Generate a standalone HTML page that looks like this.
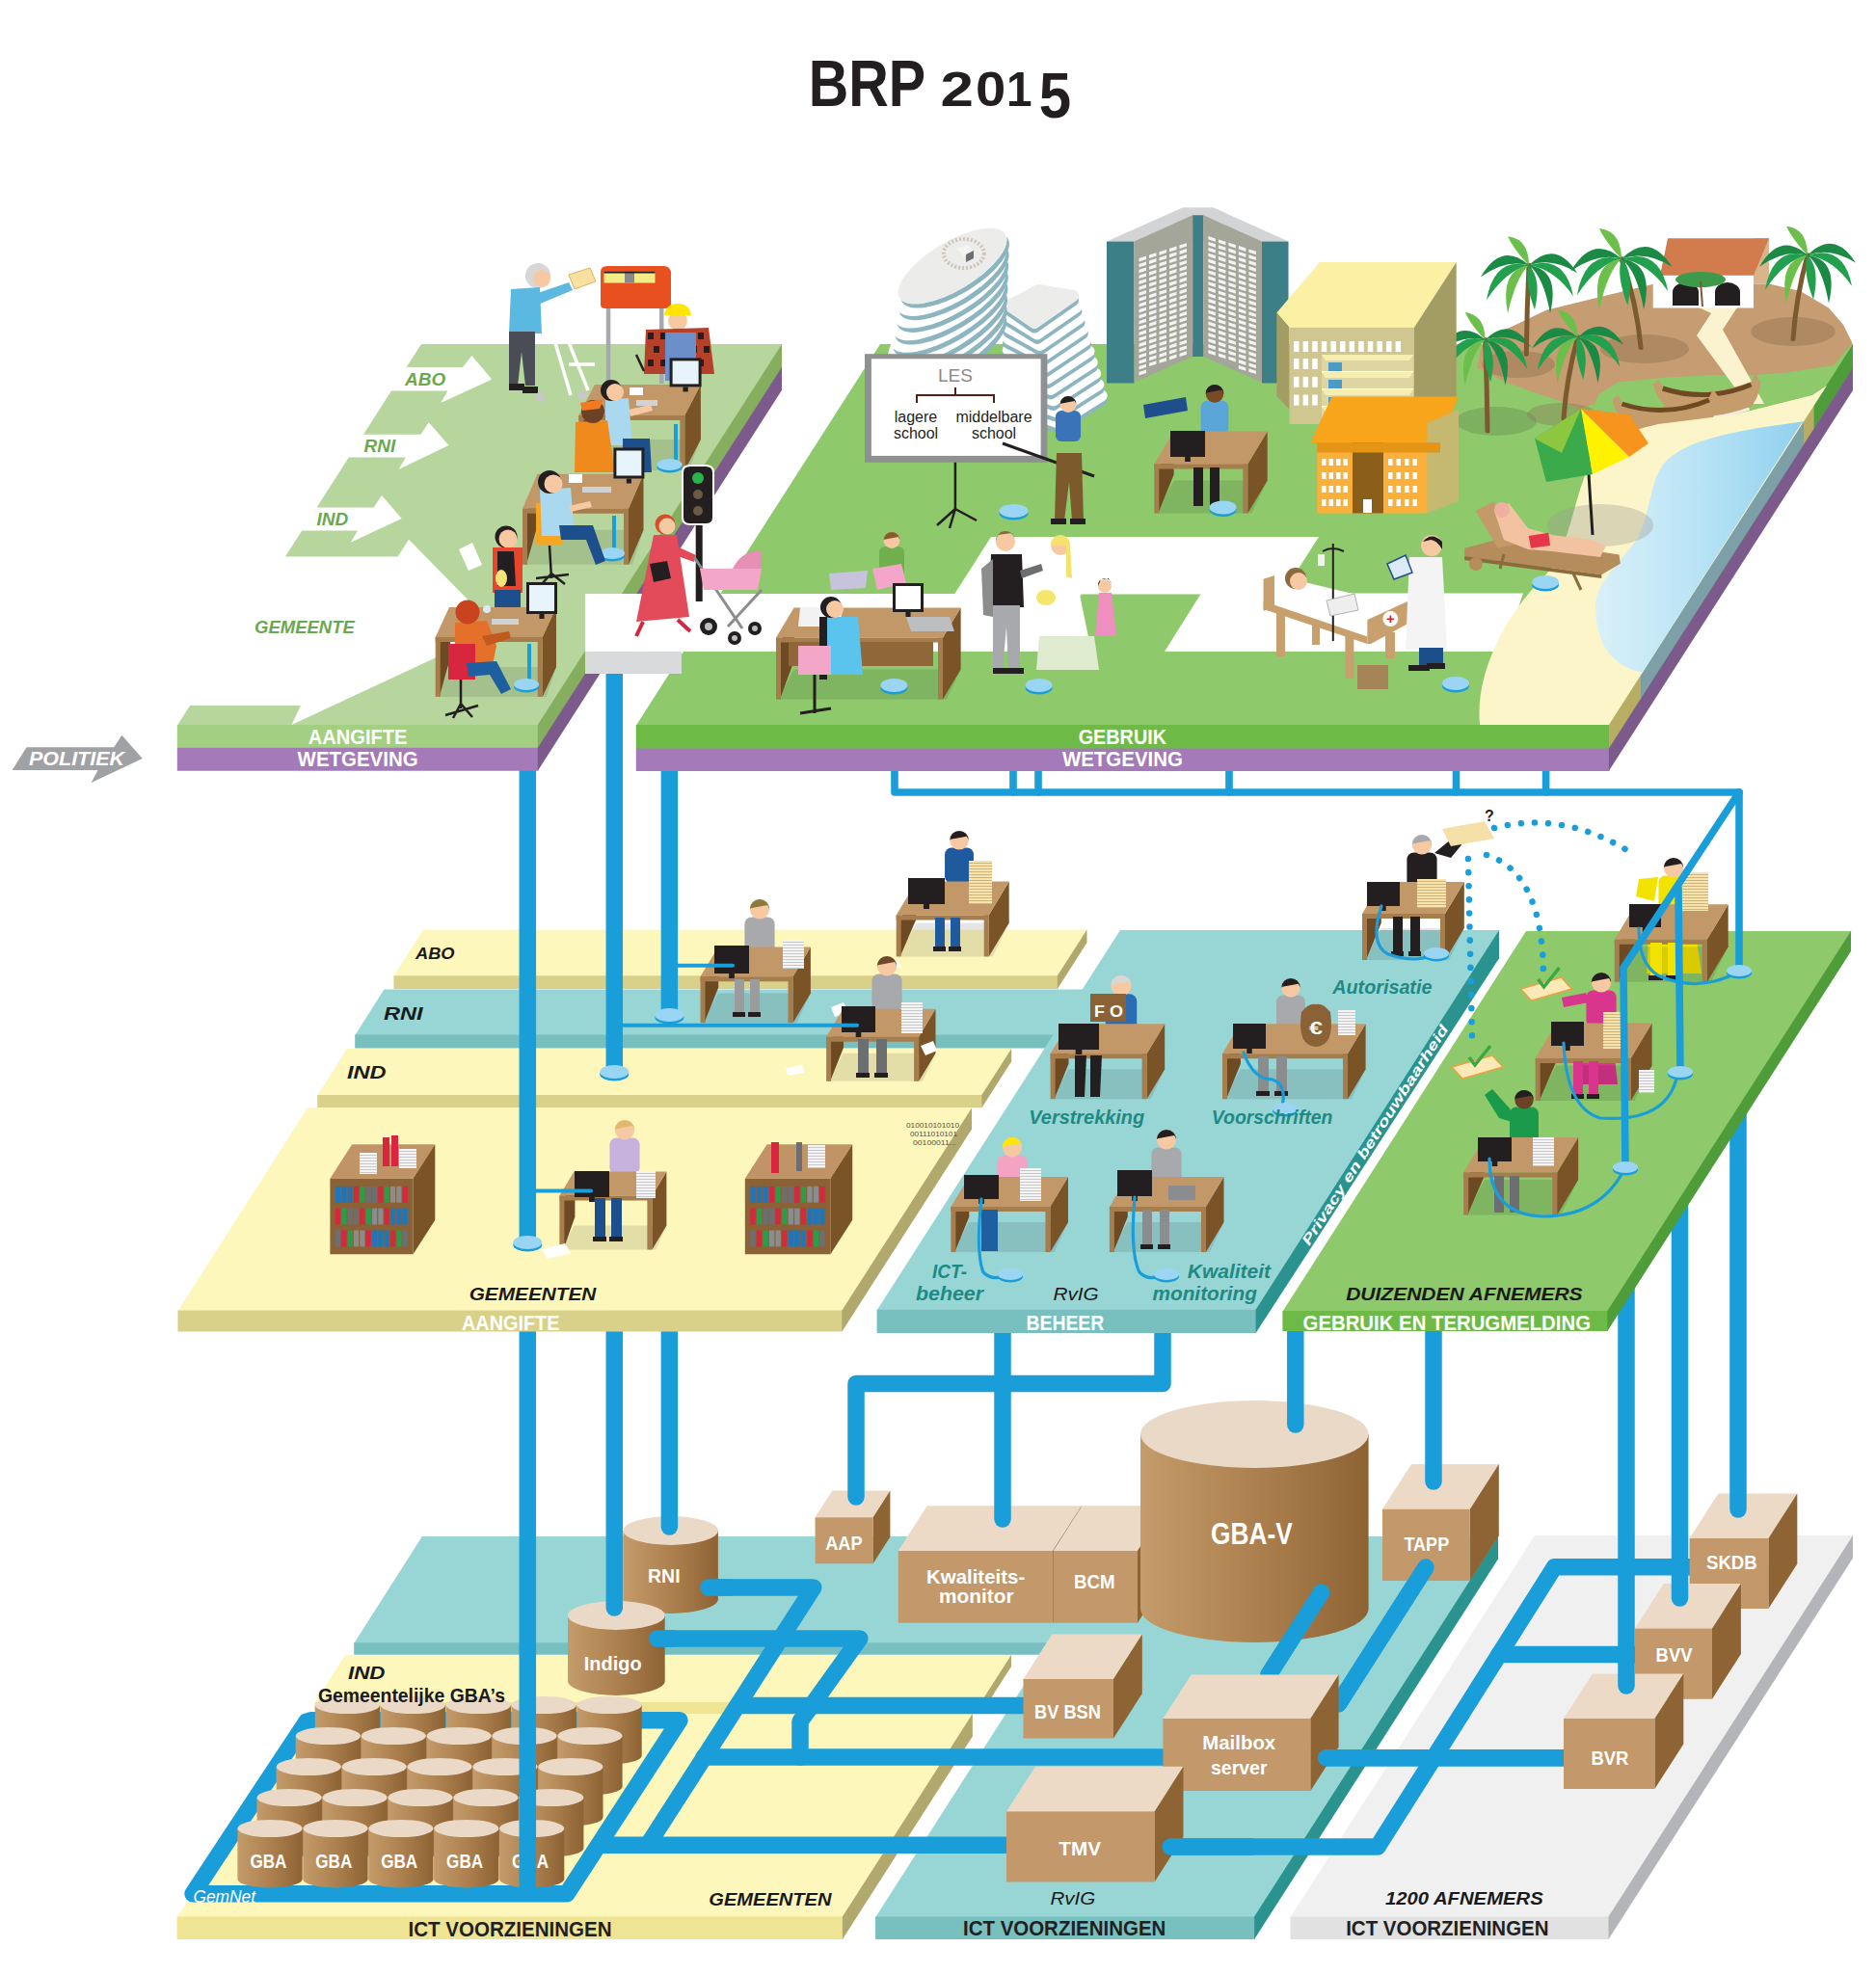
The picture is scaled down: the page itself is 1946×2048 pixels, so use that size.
<!DOCTYPE html>
<html><head><meta charset="utf-8"><style>
html,body{margin:0;padding:0;background:#fff;}
svg{display:block;}
</style></head><body>
<svg width="1946" height="2048" viewBox="0 0 1946 2048">
<defs>
<linearGradient id="gwater" x1="0" x2="1" y1="0" y2="0"><stop offset="0" stop-color="#d9f0f8"/><stop offset="0.5" stop-color="#b8e3f5"/><stop offset="1" stop-color="#8fd0ee"/></linearGradient>
<linearGradient id="gcyl" x1="0" x2="1" y1="0" y2="0"><stop offset="0" stop-color="#c49b6a"/><stop offset="0.5" stop-color="#ad814f"/><stop offset="1" stop-color="#8e6334"/></linearGradient>
</defs>
<rect width="1946" height="2048" fill="#fff"/>
<polygon points="437.9,1594.0 1200.6,1594.0 1129.9,1705.1 367.2,1705.1" fill="#98d6d6" />
<polygon points="367.2,1704.3 1129.9,1704.3 1129.9,1716.8 367.2,1716.8" fill="#78bfc0" />
<polygon points="1129.3,1704.3 1200.0,1594.0 1200.0,1606.5 1129.3,1716.8" fill="#2a938f" />
<polygon points="1161.0,1594.0 1554.6,1594.0 1301.7,1989.3 908.1,1989.3" fill="#98d6d6" />
<polygon points="908.1,1988.5 1301.7,1988.5 1301.7,2012.0 908.1,2012.0" fill="#78bfc0" />
<polygon points="1301.1,1988.5 1554.0,1594.0 1554.0,1617.5 1301.1,2012.0" fill="#2a938f" />
<polygon points="358.0,1717.0 1049.6,1717.0 1018.2,1766.8 326.6,1766.8" fill="#fdf7bb" />
<polygon points="326.6,1766.0 1018.2,1766.0 1018.2,1778.0 326.6,1778.0" fill="#efe494" />
<polygon points="1017.6,1766.0 1049.0,1717.0 1049.0,1729.0 1017.6,1778.0" fill="#b0a86c" />
<polygon points="318.5,1778.0 1009.4,1778.0 874.5,1989.3 183.6,1989.3" fill="#fdf7bb" />
<polygon points="183.6,1988.5 874.5,1988.5 874.5,2012.0 183.6,2012.0" fill="#efe494" />
<polygon points="873.9,1988.5 1008.8,1778.0 1008.8,1801.5 873.9,2012.0" fill="#b0a86c" />
<polygon points="1592.0,1593.0 1922.6,1593.0 1669.1,1989.3 1338.5,1989.3" fill="#f0f0f0" />
<polygon points="1338.5,1988.5 1669.1,1988.5 1669.1,2012.0 1338.5,2012.0" fill="#e1e1e1" />
<polygon points="1668.5,1988.5 1922.0,1593.0 1922.0,1616.5 1668.5,2012.0" fill="#b4b5b8" />
<path d="M322.0,1784.7 L705.0,1784.7 L588.0,1964.7 L200.0,1964.7 L318.0,1786.0" fill="none" stroke="#1a9ed9" stroke-width="17.5" stroke-linejoin="round" stroke-linecap="round"/>
<path d="M735.0,1647.0 L843.8,1647.0 L672.0,1914.0" fill="none" stroke="#1a9ed9" stroke-width="17.5" stroke-linejoin="round" stroke-linecap="round"/>
<path d="M682.0,1700.0 L891.8,1700.0 L830.0,1786.0 L830.0,1823.0" fill="none" stroke="#1a9ed9" stroke-width="17.5" stroke-linejoin="round" stroke-linecap="round"/>
<path d="M765.5,1769.6 L1070.0,1769.6" fill="none" stroke="#1a9ed9" stroke-width="17.5" stroke-linejoin="round" stroke-linecap="round"/>
<path d="M730.0,1823.0 L1215.0,1823.0" fill="none" stroke="#1a9ed9" stroke-width="17.5" stroke-linejoin="round" stroke-linecap="round"/>
<path d="M622.0,1914.2 L1050.0,1914.2" fill="none" stroke="#1a9ed9" stroke-width="17.5" stroke-linejoin="round" stroke-linecap="round"/>
<path d="M1370.6,1652.3 L1316.0,1737.5" fill="none" stroke="#1a9ed9" stroke-width="17.5" stroke-linejoin="round" stroke-linecap="round"/>
<path d="M1479.0,1626.0 L1388.5,1767.6" fill="none" stroke="#1a9ed9" stroke-width="17.5" stroke-linejoin="round" stroke-linecap="round"/>
<path d="M1375.7,1823.8 L1630.0,1823.8" fill="none" stroke="#1a9ed9" stroke-width="17.5" stroke-linejoin="round" stroke-linecap="round"/>
<path d="M1214.3,1916.0 L1429.0,1916.0 L1612.4,1625.8 L1760.0,1625.8" fill="none" stroke="#1a9ed9" stroke-width="17.5" stroke-linejoin="round" stroke-linecap="round"/>
<path d="M1555.0,1716.5 L1700.0,1716.5" fill="none" stroke="#1a9ed9" stroke-width="17.5" stroke-linejoin="round" stroke-linecap="round"/>
<polygon points="845.6,1574.3 905.6,1574.3 923.4,1546.5 863.4,1546.5" fill="#ecdac7" />
<polygon points="905.6,1574.3 923.4,1546.5 923.4,1594.5 905.6,1622.3" fill="#8f6434" />
<polygon points="845.6,1574.3 905.6,1574.3 905.6,1622.3 845.6,1622.3" fill="#c3986a" />
<path d="M646.5,1588 L646.5,1659 A49.19999999999999,15 0 0 0 744.9,1659 L744.9,1588 Z" fill="url(#gcyl)"/>
<ellipse cx="695.7" cy="1588" rx="49.19999999999999" ry="15" fill="#ead9c6"/>
<polygon points="1434.0,1565.8 1524.8,1565.8 1554.8,1519.0 1464.0,1519.0" fill="#ecdac7" />
<polygon points="1524.8,1565.8 1554.8,1519.0 1554.8,1593.2 1524.8,1640.0" fill="#8f6434" />
<polygon points="1434.0,1565.8 1524.8,1565.8 1524.8,1640.0 1434.0,1640.0" fill="#c3986a" />
<polygon points="1752.6,1596.0 1834.4,1596.0 1864.3,1549.4 1782.5,1549.4" fill="#ecdac7" />
<polygon points="1834.4,1596.0 1864.3,1549.4 1864.3,1622.4 1834.4,1669.0" fill="#8f6434" />
<polygon points="1752.6,1596.0 1834.4,1596.0 1834.4,1669.0 1752.6,1669.0" fill="#c3986a" />
<polygon points="931.8,1609.0 1092.0,1609.0 1121.9,1562.3 961.7,1562.3" fill="#ecdac7" />
<polygon points="1092.0,1609.0 1121.9,1562.3 1121.9,1637.1 1092.0,1683.8" fill="#8f6434" />
<polygon points="931.8,1609.0 1092.0,1609.0 1092.0,1683.8 931.8,1683.8" fill="#c3986a" />
<polygon points="1092.5,1609.0 1180.0,1609.0 1209.9,1562.3 1122.4,1562.3" fill="#ecdac7" />
<polygon points="1180.0,1609.0 1209.9,1562.3 1209.9,1637.1 1180.0,1683.8" fill="#8f6434" />
<polygon points="1092.5,1609.0 1180.0,1609.0 1180.0,1683.8 1092.5,1683.8" fill="#c3986a" />
<path d="M1183,1488 L1183,1669 A118.29999999999995,35 0 0 0 1419.6,1669 L1419.6,1488 Z" fill="url(#gcyl)"/>
<ellipse cx="1301.3" cy="1488" rx="118.29999999999995" ry="35" fill="#ead9c6"/>
<path d="M589,1676 L589,1744 A50.35000000000002,15 0 0 0 689.7,1744 L689.7,1676 Z" fill="url(#gcyl)"/>
<ellipse cx="639.35" cy="1676" rx="50.35000000000002" ry="15" fill="#ead9c6"/>
<polygon points="1696.0,1689.6 1776.0,1689.6 1805.9,1643.0 1725.9,1643.0" fill="#ecdac7" />
<polygon points="1776.0,1689.6 1805.9,1643.0 1805.9,1716.1 1776.0,1762.7" fill="#8f6434" />
<polygon points="1696.0,1689.6 1776.0,1689.6 1776.0,1762.7 1696.0,1762.7" fill="#c3986a" />
<polygon points="1061.5,1742.0 1155.0,1742.0 1184.8,1695.5 1091.3,1695.5" fill="#ecdac7" />
<polygon points="1155.0,1742.0 1184.8,1695.5 1184.8,1757.1 1155.0,1803.6" fill="#8f6434" />
<polygon points="1061.5,1742.0 1155.0,1742.0 1155.0,1803.6 1061.5,1803.6" fill="#c3986a" />
<polygon points="1622.0,1783.0 1716.4,1783.0 1746.3,1736.4 1651.9,1736.4" fill="#ecdac7" />
<polygon points="1716.4,1783.0 1746.3,1736.4 1746.3,1809.4 1716.4,1856.0" fill="#8f6434" />
<polygon points="1622.0,1783.0 1716.4,1783.0 1716.4,1856.0 1622.0,1856.0" fill="#c3986a" />
<path d="M1370.6,1652.3 L1316.0,1737.5" fill="none" stroke="#1a9ed9" stroke-width="17.5" stroke-linejoin="round" stroke-linecap="round"/>
<path d="M1479.0,1626.0 L1388.5,1767.6" fill="none" stroke="#1a9ed9" stroke-width="17.5" stroke-linejoin="round" stroke-linecap="round"/>
<polygon points="1206.4,1783.0 1359.4,1783.0 1388.6,1737.5 1235.6,1737.5" fill="#ecdac7" />
<polygon points="1359.4,1783.0 1388.6,1737.5 1388.6,1812.5 1359.4,1858.0" fill="#8f6434" />
<polygon points="1206.4,1783.0 1359.4,1783.0 1359.4,1858.0 1206.4,1858.0" fill="#c3986a" />
<path d="M1375.7,1823.8 L1622.0,1823.8" fill="none" stroke="#1a9ed9" stroke-width="17.5" stroke-linejoin="round" stroke-linecap="butt"/>
<circle cx="1375.7" cy="1823.8" r="8.75" fill="#1a9ed9"/>
<polygon points="1044.0,1879.5 1197.6,1879.5 1227.5,1832.8 1073.9,1832.8" fill="#ecdac7" />
<polygon points="1197.6,1879.5 1227.5,1832.8 1227.5,1905.8 1197.6,1952.5" fill="#8f6434" />
<polygon points="1044.0,1879.5 1197.6,1879.5 1197.6,1952.5 1044.0,1952.5" fill="#c3986a" />
<path d="M1214.3,1916.0 L1300.0,1916.0" fill="none" stroke="#1a9ed9" stroke-width="17.5" stroke-linejoin="round" stroke-linecap="butt"/>
<circle cx="1214.3" cy="1916" r="8.75" fill="#1a9ed9"/>
<path d="M735.0,1647.0 L760.0,1647.0" fill="none" stroke="#1a9ed9" stroke-width="17.5" stroke-linejoin="round" stroke-linecap="butt"/>
<circle cx="735" cy="1647" r="8.75" fill="#1a9ed9"/>
<path d="M682.0,1700.0 L700.0,1700.0" fill="none" stroke="#1a9ed9" stroke-width="17.5" stroke-linejoin="round" stroke-linecap="butt"/>
<circle cx="682" cy="1700" r="8.75" fill="#1a9ed9"/>
<path d="M326.8,1769 L326.8,1821.4 A33.650000000000006,9.1 0 0 0 394.1,1821.4 L394.1,1769 Z" fill="url(#gcyl)"/>
<ellipse cx="360.45000000000005" cy="1769" rx="33.650000000000006" ry="9.1" fill="#ead9c6"/>
<path d="M394.70000000000005,1769 L394.70000000000005,1821.4 A33.650000000000006,9.1 0 0 0 462.00000000000006,1821.4 L462.00000000000006,1769 Z" fill="url(#gcyl)"/>
<ellipse cx="428.35" cy="1769" rx="33.650000000000006" ry="9.1" fill="#ead9c6"/>
<path d="M462.6,1769 L462.6,1821.4 A33.64999999999998,9.1 0 0 0 529.9,1821.4 L529.9,1769 Z" fill="url(#gcyl)"/>
<ellipse cx="496.25" cy="1769" rx="33.64999999999998" ry="9.1" fill="#ead9c6"/>
<path d="M530.5,1769 L530.5,1821.4 A33.64999999999998,9.1 0 0 0 597.8,1821.4 L597.8,1769 Z" fill="url(#gcyl)"/>
<ellipse cx="564.15" cy="1769" rx="33.64999999999998" ry="9.1" fill="#ead9c6"/>
<path d="M598.4000000000001,1769 L598.4000000000001,1821.4 A33.64999999999998,9.1 0 0 0 665.7,1821.4 L665.7,1769 Z" fill="url(#gcyl)"/>
<ellipse cx="632.0500000000001" cy="1769" rx="33.64999999999998" ry="9.1" fill="#ead9c6"/>
<path d="M306.7,1801 L306.7,1853.4 A33.650000000000006,9.1 0 0 0 374.0,1853.4 L374.0,1801 Z" fill="url(#gcyl)"/>
<ellipse cx="340.35" cy="1801" rx="33.650000000000006" ry="9.1" fill="#ead9c6"/>
<path d="M374.6,1801 L374.6,1853.4 A33.650000000000006,9.1 0 0 0 441.90000000000003,1853.4 L441.90000000000003,1801 Z" fill="url(#gcyl)"/>
<ellipse cx="408.25" cy="1801" rx="33.650000000000006" ry="9.1" fill="#ead9c6"/>
<path d="M442.5,1801 L442.5,1853.4 A33.650000000000006,9.1 0 0 0 509.8,1853.4 L509.8,1801 Z" fill="url(#gcyl)"/>
<ellipse cx="476.15" cy="1801" rx="33.650000000000006" ry="9.1" fill="#ead9c6"/>
<path d="M510.4,1801 L510.4,1853.4 A33.64999999999998,9.1 0 0 0 577.6999999999999,1853.4 L577.6999999999999,1801 Z" fill="url(#gcyl)"/>
<ellipse cx="544.05" cy="1801" rx="33.64999999999998" ry="9.1" fill="#ead9c6"/>
<path d="M578.3,1801 L578.3,1853.4 A33.64999999999998,9.1 0 0 0 645.5999999999999,1853.4 L645.5999999999999,1801 Z" fill="url(#gcyl)"/>
<ellipse cx="611.9499999999999" cy="1801" rx="33.64999999999998" ry="9.1" fill="#ead9c6"/>
<path d="M286.6,1833 L286.6,1885.4 A33.650000000000006,9.1 0 0 0 353.90000000000003,1885.4 L353.90000000000003,1833 Z" fill="url(#gcyl)"/>
<ellipse cx="320.25" cy="1833" rx="33.650000000000006" ry="9.1" fill="#ead9c6"/>
<path d="M354.5,1833 L354.5,1885.4 A33.650000000000006,9.1 0 0 0 421.8,1885.4 L421.8,1833 Z" fill="url(#gcyl)"/>
<ellipse cx="388.15" cy="1833" rx="33.650000000000006" ry="9.1" fill="#ead9c6"/>
<path d="M422.40000000000003,1833 L422.40000000000003,1885.4 A33.650000000000006,9.1 0 0 0 489.70000000000005,1885.4 L489.70000000000005,1833 Z" fill="url(#gcyl)"/>
<ellipse cx="456.05000000000007" cy="1833" rx="33.650000000000006" ry="9.1" fill="#ead9c6"/>
<path d="M490.30000000000007,1833 L490.30000000000007,1885.4 A33.64999999999998,9.1 0 0 0 557.6,1885.4 L557.6,1833 Z" fill="url(#gcyl)"/>
<ellipse cx="523.95" cy="1833" rx="33.64999999999998" ry="9.1" fill="#ead9c6"/>
<path d="M558.2,1833 L558.2,1885.4 A33.64999999999998,9.1 0 0 0 625.5,1885.4 L625.5,1833 Z" fill="url(#gcyl)"/>
<ellipse cx="591.85" cy="1833" rx="33.64999999999998" ry="9.1" fill="#ead9c6"/>
<path d="M266.5,1865 L266.5,1917.4 A33.650000000000006,9.1 0 0 0 333.8,1917.4 L333.8,1865 Z" fill="url(#gcyl)"/>
<ellipse cx="300.15" cy="1865" rx="33.650000000000006" ry="9.1" fill="#ead9c6"/>
<path d="M334.4,1865 L334.4,1917.4 A33.650000000000006,9.1 0 0 0 401.7,1917.4 L401.7,1865 Z" fill="url(#gcyl)"/>
<ellipse cx="368.04999999999995" cy="1865" rx="33.650000000000006" ry="9.1" fill="#ead9c6"/>
<path d="M402.3,1865 L402.3,1917.4 A33.650000000000006,9.1 0 0 0 469.6,1917.4 L469.6,1865 Z" fill="url(#gcyl)"/>
<ellipse cx="435.95000000000005" cy="1865" rx="33.650000000000006" ry="9.1" fill="#ead9c6"/>
<path d="M470.20000000000005,1865 L470.20000000000005,1917.4 A33.64999999999998,9.1 0 0 0 537.5,1917.4 L537.5,1865 Z" fill="url(#gcyl)"/>
<ellipse cx="503.85" cy="1865" rx="33.64999999999998" ry="9.1" fill="#ead9c6"/>
<path d="M538.1,1865 L538.1,1917.4 A33.64999999999998,9.1 0 0 0 605.4,1917.4 L605.4,1865 Z" fill="url(#gcyl)"/>
<ellipse cx="571.75" cy="1865" rx="33.64999999999998" ry="9.1" fill="#ead9c6"/>
<path d="M246.4,1897 L246.4,1949.4 A33.64999999999999,9.1 0 0 0 313.7,1949.4 L313.7,1897 Z" fill="url(#gcyl)"/>
<ellipse cx="280.05" cy="1897" rx="33.64999999999999" ry="9.1" fill="#ead9c6"/>
<path d="M314.3,1897 L314.3,1949.4 A33.650000000000006,9.1 0 0 0 381.6,1949.4 L381.6,1897 Z" fill="url(#gcyl)"/>
<ellipse cx="347.95000000000005" cy="1897" rx="33.650000000000006" ry="9.1" fill="#ead9c6"/>
<path d="M382.20000000000005,1897 L382.20000000000005,1949.4 A33.650000000000006,9.1 0 0 0 449.50000000000006,1949.4 L449.50000000000006,1897 Z" fill="url(#gcyl)"/>
<ellipse cx="415.85" cy="1897" rx="33.650000000000006" ry="9.1" fill="#ead9c6"/>
<path d="M450.1,1897 L450.1,1949.4 A33.64999999999998,9.1 0 0 0 517.4,1949.4 L517.4,1897 Z" fill="url(#gcyl)"/>
<ellipse cx="483.75" cy="1897" rx="33.64999999999998" ry="9.1" fill="#ead9c6"/>
<path d="M518.0,1897 L518.0,1949.4 A33.64999999999998,9.1 0 0 0 585.3,1949.4 L585.3,1897 Z" fill="url(#gcyl)"/>
<ellipse cx="551.65" cy="1897" rx="33.64999999999998" ry="9.1" fill="#ead9c6"/>
<text x="259.4" y="1938" font-family="Liberation Sans" font-size="21" font-weight="bold" fill="#fff" text-anchor="start" style=""  textLength="38.0" lengthAdjust="spacingAndGlyphs">GBA</text>
<text x="327.3" y="1938" font-family="Liberation Sans" font-size="21" font-weight="bold" fill="#fff" text-anchor="start" style=""  textLength="38.0" lengthAdjust="spacingAndGlyphs">GBA</text>
<text x="395.20000000000005" y="1938" font-family="Liberation Sans" font-size="21" font-weight="bold" fill="#fff" text-anchor="start" style=""  textLength="38.0" lengthAdjust="spacingAndGlyphs">GBA</text>
<text x="463.1" y="1938" font-family="Liberation Sans" font-size="21" font-weight="bold" fill="#fff" text-anchor="start" style=""  textLength="38.0" lengthAdjust="spacingAndGlyphs">GBA</text>
<text x="531.0" y="1938" font-family="Liberation Sans" font-size="21" font-weight="bold" fill="#fff" text-anchor="start" style=""  textLength="38.0" lengthAdjust="spacingAndGlyphs">GBA</text>
<text x="856.2" y="1607.9" font-family="Liberation Sans" font-size="21" font-weight="bold" fill="#fff" text-anchor="start" style=""  textLength="38.4" lengthAdjust="spacingAndGlyphs">AAP</text>
<text x="672" y="1641.5" font-family="Liberation Sans" font-size="21" font-weight="bold" fill="#fff" text-anchor="start" style=""  textLength="33.6" lengthAdjust="spacingAndGlyphs">RNI</text>
<text x="605.8" y="1732.6" font-family="Liberation Sans" font-size="21" font-weight="bold" fill="#fff" text-anchor="start" style=""  textLength="59.9" lengthAdjust="spacingAndGlyphs">Indigo</text>
<text x="1256" y="1602" font-family="Liberation Sans" font-size="31" font-weight="bold" fill="#fff" text-anchor="start" style=""  textLength="84.7" lengthAdjust="spacingAndGlyphs">GBA-V</text>
<text x="1456.4" y="1609" font-family="Liberation Sans" font-size="21" font-weight="bold" fill="#fff" text-anchor="start" style=""  textLength="46.8" lengthAdjust="spacingAndGlyphs">TAPP</text>
<text x="1770" y="1628.3" font-family="Liberation Sans" font-size="21" font-weight="bold" fill="#fff" text-anchor="start" style=""  textLength="52.7" lengthAdjust="spacingAndGlyphs">SKDB</text>
<text x="1717.6" y="1723.5" font-family="Liberation Sans" font-size="21" font-weight="bold" fill="#fff" text-anchor="start" style=""  textLength="37.9" lengthAdjust="spacingAndGlyphs">BVV</text>
<text x="1650.4" y="1831" font-family="Liberation Sans" font-size="21" font-weight="bold" fill="#fff" text-anchor="start" style=""  textLength="39.1" lengthAdjust="spacingAndGlyphs">BVR</text>
<text x="1073" y="1783" font-family="Liberation Sans" font-size="21" font-weight="bold" fill="#fff" text-anchor="start" style=""  textLength="69" lengthAdjust="spacingAndGlyphs">BV BSN</text>
<text x="1247.3" y="1815" font-family="Liberation Sans" font-size="21" font-weight="bold" fill="#fff" text-anchor="start" style=""  textLength="75.9" lengthAdjust="spacingAndGlyphs">Mailbox</text>
<text x="1256" y="1841" font-family="Liberation Sans" font-size="21" font-weight="bold" fill="#fff" text-anchor="start" style=""  textLength="58.5" lengthAdjust="spacingAndGlyphs">server</text>
<text x="1098.3" y="1925" font-family="Liberation Sans" font-size="21" font-weight="bold" fill="#fff" text-anchor="start" style=""  textLength="43.7" lengthAdjust="spacingAndGlyphs">TMV</text>
<text x="961" y="1643" font-family="Liberation Sans" font-size="20" font-weight="bold" fill="#fff" text-anchor="start" style=""  textLength="102.2" lengthAdjust="spacingAndGlyphs">Kwaliteits-</text>
<text x="973.9" y="1663" font-family="Liberation Sans" font-size="20" font-weight="bold" fill="#fff" text-anchor="start" style=""  textLength="77.7" lengthAdjust="spacingAndGlyphs">monitor</text>
<text x="1114" y="1647.6" font-family="Liberation Sans" font-size="21" font-weight="bold" fill="#fff" text-anchor="start" style=""  textLength="42.7" lengthAdjust="spacingAndGlyphs">BCM</text>
<text x="361" y="1742" font-family="Liberation Sans" font-size="18" font-weight="bold" fill="#1a1a1a" text-anchor="start" style="font-style:italic;"  textLength="38.5" lengthAdjust="spacingAndGlyphs">IND</text>
<text x="330" y="1766" font-family="Liberation Sans" font-size="21" font-weight="bold" fill="#1a1a1a" text-anchor="start" style=""  textLength="194" lengthAdjust="spacingAndGlyphs">Gemeentelijke GBA&#8217;s</text>
<text x="200.4" y="1974" font-family="Liberation Sans" font-size="18" font-weight="normal" fill="#ffffff" text-anchor="start" style="font-style:italic;"  textLength="64.7" lengthAdjust="spacingAndGlyphs">GemNet</text>
<text x="735.3" y="1977" font-family="Liberation Sans" font-size="19" font-weight="bold" fill="#1a1a1a" text-anchor="start" style="font-style:italic;"  textLength="127.1" lengthAdjust="spacingAndGlyphs">GEMEENTEN</text>
<text x="1089.5" y="1976" font-family="Liberation Sans" font-size="19" font-weight="normal" fill="#1a1a1a" text-anchor="start" style="font-style:italic;"  textLength="46.8" lengthAdjust="spacingAndGlyphs">RvIG</text>
<text x="1437" y="1976" font-family="Liberation Sans" font-size="19" font-weight="bold" fill="#1a1a1a" text-anchor="start" style="font-style:italic;"  textLength="163.7" lengthAdjust="spacingAndGlyphs">1200 AFNEMERS</text>
<text x="423.5" y="2008.5" font-family="Liberation Sans" font-size="22" font-weight="bold" fill="#231f20" text-anchor="start" style=""  textLength="211.1" lengthAdjust="spacingAndGlyphs">ICT VOORZIENINGEN</text>
<text x="999" y="2008" font-family="Liberation Sans" font-size="22" font-weight="bold" fill="#231f20" text-anchor="start" style=""  textLength="210.3" lengthAdjust="spacingAndGlyphs">ICT VOORZIENINGEN</text>
<text x="1396.2" y="2008" font-family="Liberation Sans" font-size="22" font-weight="bold" fill="#231f20" text-anchor="start" style=""  textLength="210.3" lengthAdjust="spacingAndGlyphs">ICT VOORZIENINGEN</text>
<path d="M547.3,1370.0 L547.3,1964.0" fill="none" stroke="#1a9ed9" stroke-width="17.5" stroke-linejoin="round" stroke-linecap="butt"/>
<path d="M637.3,1370.0 L637.3,1668.0" fill="none" stroke="#1a9ed9" stroke-width="17.5" stroke-linejoin="round" stroke-linecap="round"/>
<path d="M694.4,1370.0 L694.4,1584.0" fill="none" stroke="#1a9ed9" stroke-width="17.5" stroke-linejoin="round" stroke-linecap="round"/>
<path d="M1206.0,1370.0 L1206.0,1435.5 L888.0,1435.5 L888.0,1553.0" fill="none" stroke="#1a9ed9" stroke-width="17.5" stroke-linejoin="round" stroke-linecap="round"/>
<path d="M1040.0,1370.0 L1040.0,1576.0" fill="none" stroke="#1a9ed9" stroke-width="17.5" stroke-linejoin="round" stroke-linecap="round"/>
<path d="M1343.8,1370.0 L1343.8,1478.0" fill="none" stroke="#1a9ed9" stroke-width="17.5" stroke-linejoin="round" stroke-linecap="round"/>
<path d="M1487.0,1370.0 L1487.0,1537.0" fill="none" stroke="#1a9ed9" stroke-width="17.5" stroke-linejoin="round" stroke-linecap="round"/>
<path d="M1687.0,1200.0 L1687.0,1749.0" fill="none" stroke="#1a9ed9" stroke-width="17.5" stroke-linejoin="round" stroke-linecap="round"/>
<path d="M1742.5,1100.0 L1742.5,1658.0" fill="none" stroke="#1a9ed9" stroke-width="17.5" stroke-linejoin="round" stroke-linecap="round"/>
<path d="M1803.0,1000.0 L1803.0,1566.0" fill="none" stroke="#1a9ed9" stroke-width="17.5" stroke-linejoin="round" stroke-linecap="round"/>
<polygon points="439.0,964.5 1128.1,964.5 1097.5,1013.1 408.4,1013.1" fill="#fdf7bb" />
<polygon points="408.4,1012.3 1097.5,1012.3 1097.5,1025.9 408.4,1025.9" fill="#d9d189" />
<polygon points="1096.9,1012.3 1127.5,964.5 1127.5,978.1 1096.9,1025.9" fill="#b0a86c" />
<polygon points="398.4,1026.4 1200.6,1026.4 1170.4,1074.3 368.2,1074.3" fill="#98d6d6" />
<polygon points="368.2,1073.5 1170.4,1073.5 1170.4,1087.5 368.2,1087.5" fill="#78bfc0" />
<polygon points="1169.8,1073.5 1200.0,1026.4 1200.0,1040.4 1169.8,1087.5" fill="#2a938f" />
<polygon points="360.0,1088.0 1049.8,1088.0 1019.0,1136.8 329.2,1136.8" fill="#fdf7bb" />
<polygon points="329.2,1136.0 1019.0,1136.0 1019.0,1149.3 329.2,1149.3" fill="#d9d189" />
<polygon points="1018.4,1136.0 1049.2,1088.0 1049.2,1101.3 1018.4,1149.3" fill="#b0a86c" />
<polygon points="319.0,1149.5 1008.6,1149.5 874.0,1360.3 184.4,1360.3" fill="#fdf7bb" />
<polygon points="184.4,1359.5 874.0,1359.5 874.0,1381.5 184.4,1381.5" fill="#d9d189" />
<polygon points="873.4,1359.5 1008.0,1149.5 1008.0,1171.5 873.4,1381.5" fill="#b0a86c" />
<polygon points="1162.0,965.0 1555.6,965.0 1303.2,1359.5 909.6,1359.5" fill="#98d6d6" />
<polygon points="909.6,1358.7 1303.2,1358.7 1303.2,1383.0 909.6,1383.0" fill="#78bfc0" />
<polygon points="1302.6,1358.7 1555.0,965.0 1555.0,994.3 1302.6,1383.0" fill="#2a938f" />
<polygon points="1583.0,966.0 1920.6,966.0 1668.0,1360.8 1330.4,1360.8" fill="#8ec96b" />
<polygon points="1330.4,1360.0 1668.0,1360.0 1668.0,1381.0 1330.4,1381.0" fill="#6dbb46" />
<polygon points="1667.4,1360.0 1920.0,966.0 1920.0,987.0 1667.4,1381.0" fill="#4f9c3a" />
<rect x="980.05" y="879.55" width="29.9" height="36.8" rx="6.8999999999999995" fill="#1f5a9e"/>
<circle cx="995" cy="871.775" r="9.774999999999999" fill="#f7c9a3"/>
<path d="M985.225,871.775 A9.774999999999999,9.774999999999999 0 0 1 1004.775,871.775 L1002.82,867.865 L986.2025,870.7975 Z" fill="#231f20"/>
<polygon points="931.7,992.4 1029.7,992.4 1046.7,957.4 950.7,957.4" fill="#000000" opacity="0.1"/>
<polygon points="1025.7,949.4 1046.7,914.4 1046.7,957.4 1025.7,992.4" fill="#7a5327" />
<polygon points="933.7,953.4 950.5,925.4 950.5,953.6 933.7,992.4" fill="#6e4a22" />
<polygon points="929.7,949.4 1025.7,949.4 1046.7,914.4 950.7,914.4" fill="#c29868" />
<polygon points="929.7,949.4 1025.7,949.4 1025.7,954.4 929.7,954.4" fill="#a67d4d" />
<polygon points="929.7,949.4 934.7,949.4 934.7,992.4 929.7,992.4" fill="#a67d4d" />
<polygon points="1020.7,949.4 1025.7,949.4 1025.7,992.4 1020.7,992.4" fill="#a67d4d" />
<rect x="970" y="952" width="10" height="32" fill="#1f5a9e" />
<rect x="986" y="952" width="10" height="32" fill="#1f5a9e" />
<rect x="968" y="982" width="13" height="5" fill="#231f20" />
<rect x="984" y="982" width="13" height="5" fill="#231f20" />
<rect x="942" y="911" width="38" height="27" fill="#231f20"/>
<rect x="957.96" y="938" width="6.08" height="5" fill="#231f20"/>
<rect x="1005" y="893" width="24" height="45" fill="#f5e3b0" />
<rect x="1005" y="895" width="24" height="0.8" fill="#c9a867" />
<rect x="1005" y="898" width="24" height="0.8" fill="#c9a867" />
<rect x="1005" y="901" width="24" height="0.8" fill="#c9a867" />
<rect x="1005" y="904" width="24" height="0.8" fill="#c9a867" />
<rect x="1005" y="907" width="24" height="0.8" fill="#c9a867" />
<rect x="1005" y="910" width="24" height="0.8" fill="#c9a867" />
<rect x="1005" y="913" width="24" height="0.8" fill="#c9a867" />
<rect x="1005" y="916" width="24" height="0.8" fill="#c9a867" />
<rect x="1005" y="919" width="24" height="0.8" fill="#c9a867" />
<rect x="1005" y="922" width="24" height="0.8" fill="#c9a867" />
<rect x="1005" y="925" width="24" height="0.8" fill="#c9a867" />
<rect x="1005" y="928" width="24" height="0.8" fill="#c9a867" />
<rect x="1005" y="931" width="24" height="0.8" fill="#c9a867" />
<rect x="1005" y="934" width="24" height="0.8" fill="#c9a867" />
<rect x="1005" y="937" width="24" height="0.8" fill="#c9a867" />
<polygon points="915.0,1000.0 930.0,995.0 935.0,1003.0 920.0,1008.0" fill="#ffffff" />
<rect x="772.4" y="951.4" width="31.2" height="38.4" rx="7.199999999999999" fill="#a7a9ac"/>
<circle cx="788" cy="943.2" r="10.2" fill="#f7c9a3"/>
<path d="M777.8,943.2 A10.2,10.2 0 0 1 798.2,943.2 L796.16,939.12 L778.82,942.18 Z" fill="#8b7a3a"/>
<polygon points="728.5,1061.2 826.5,1061.2 840.9,1030.5 744.9,1030.5" fill="#000000" opacity="0.1"/>
<polygon points="822.5,1013.2 840.9,982.5 840.9,1030.5 822.5,1061.2" fill="#7a5327" />
<polygon points="730.5,1017.2 745.2,992.6 745.2,1024.6 730.5,1061.2" fill="#6e4a22" />
<polygon points="726.5,1013.2 822.5,1013.2 840.9,982.5 744.9,982.5" fill="#c29868" />
<polygon points="726.5,1013.2 822.5,1013.2 822.5,1018.2 726.5,1018.2" fill="#a67d4d" />
<polygon points="726.5,1013.2 731.5,1013.2 731.5,1061.2 726.5,1061.2" fill="#a67d4d" />
<polygon points="817.5,1013.2 822.5,1013.2 822.5,1061.2 817.5,1061.2" fill="#a67d4d" />
<rect x="762" y="1016" width="10" height="36" fill="#9a9c9e" />
<rect x="778" y="1016" width="10" height="36" fill="#9a9c9e" />
<rect x="760" y="1050" width="13" height="5" fill="#231f20" />
<rect x="776" y="1050" width="13" height="5" fill="#231f20" />
<rect x="741" y="981" width="36" height="29" fill="#231f20"/>
<rect x="756.12" y="1010" width="5.76" height="5" fill="#231f20"/>
<rect x="812" y="975" width="22" height="30" fill="#f4f4f4" />
<rect x="812" y="977" width="22" height="0.8" fill="#bcbec0" />
<rect x="812" y="980" width="22" height="0.8" fill="#bcbec0" />
<rect x="812" y="983" width="22" height="0.8" fill="#bcbec0" />
<rect x="812" y="986" width="22" height="0.8" fill="#bcbec0" />
<rect x="812" y="989" width="22" height="0.8" fill="#bcbec0" />
<rect x="812" y="992" width="22" height="0.8" fill="#bcbec0" />
<rect x="812" y="995" width="22" height="0.8" fill="#bcbec0" />
<rect x="812" y="998" width="22" height="0.8" fill="#bcbec0" />
<rect x="812" y="1001" width="22" height="0.8" fill="#bcbec0" />
<rect x="812" y="1004" width="22" height="0.8" fill="#bcbec0" />
<polygon points="862.0,1045.0 875.0,1040.0 880.0,1050.0 866.0,1055.0" fill="#ffffff" />
<rect x="904.4" y="1010.4" width="31.2" height="38.4" rx="7.199999999999999" fill="#a7a9ac"/>
<circle cx="920" cy="1002.2" r="10.2" fill="#f7c9a3"/>
<path d="M909.8,1002.2 A10.2,10.2 0 0 1 930.2,1002.2 L928.16,998.12 L910.82,1001.18 Z" fill="#6b4a2b"/>
<polygon points="859.1,1121.8 957.1,1121.8 970.5,1092.8 874.5,1092.8" fill="#000000" opacity="0.1"/>
<polygon points="953.1,1075.8 970.5,1046.8 970.5,1092.8 953.1,1121.8" fill="#7a5327" />
<polygon points="861.1,1079.8 875.0,1056.6 875.0,1087.1 861.1,1121.8" fill="#6e4a22" />
<polygon points="857.1,1075.8 953.1,1075.8 970.5,1046.8 874.5,1046.8" fill="#c29868" />
<polygon points="857.1,1075.8 953.1,1075.8 953.1,1080.8 857.1,1080.8" fill="#a67d4d" />
<polygon points="857.1,1075.8 862.1,1075.8 862.1,1121.8 857.1,1121.8" fill="#a67d4d" />
<polygon points="948.1,1075.8 953.1,1075.8 953.1,1121.8 948.1,1121.8" fill="#a67d4d" />
<rect x="890" y="1078" width="11" height="37" fill="#6d6e71" />
<rect x="909" y="1078" width="11" height="37" fill="#6d6e71" />
<rect x="888" y="1113" width="14" height="5" fill="#231f20" />
<rect x="907" y="1113" width="14" height="5" fill="#231f20" />
<rect x="873" y="1044" width="35" height="27" fill="#231f20"/>
<rect x="887.7" y="1071" width="5.6000000000000005" height="5" fill="#231f20"/>
<rect x="935" y="1040" width="22" height="32" fill="#f4f4f4" />
<rect x="935" y="1042" width="22" height="0.8" fill="#bcbec0" />
<rect x="935" y="1045" width="22" height="0.8" fill="#bcbec0" />
<rect x="935" y="1048" width="22" height="0.8" fill="#bcbec0" />
<rect x="935" y="1051" width="22" height="0.8" fill="#bcbec0" />
<rect x="935" y="1054" width="22" height="0.8" fill="#bcbec0" />
<rect x="935" y="1057" width="22" height="0.8" fill="#bcbec0" />
<rect x="935" y="1060" width="22" height="0.8" fill="#bcbec0" />
<rect x="935" y="1063" width="22" height="0.8" fill="#bcbec0" />
<rect x="935" y="1066" width="22" height="0.8" fill="#bcbec0" />
<rect x="935" y="1069" width="22" height="0.8" fill="#bcbec0" />
<polygon points="955.0,1085.0 968.0,1080.0 972.0,1090.0 960.0,1095.0" fill="#ffffff" />
<polygon points="815.0,1108.0 832.0,1105.0 835.0,1113.0 818.0,1116.0" fill="#ffffff" />
<polygon points="342.4,1222.8 428.5,1222.8 451.3,1187.3 365.2,1187.3" fill="#c09467" />
<polygon points="428.5,1222.8 451.3,1187.3 451.3,1265.8 428.5,1301.3" fill="#7a5327" />
<polygon points="342.4,1222.8 428.5,1222.8 428.5,1301.3 342.4,1301.3" fill="#8b6136" />
<rect x="347.9" y="1230.8" width="5.141666666666668" height="16.833333333333332" fill="#1f75b8" />
<rect x="354.2416666666667" y="1230.8" width="5.141666666666668" height="16.833333333333332" fill="#1f75b8" />
<rect x="360.5833333333333" y="1230.8" width="5.141666666666668" height="16.833333333333332" fill="#1f75b8" />
<rect x="366.92499999999995" y="1230.8" width="5.141666666666668" height="16.833333333333332" fill="#d7263d" />
<rect x="373.26666666666665" y="1230.8" width="5.141666666666668" height="16.833333333333332" fill="#2a9d4a" />
<rect x="379.60833333333335" y="1230.8" width="5.141666666666668" height="16.833333333333332" fill="#6d6e71" />
<rect x="385.95" y="1230.8" width="5.141666666666668" height="16.833333333333332" fill="#6d6e71" />
<rect x="392.29166666666663" y="1230.8" width="5.141666666666668" height="16.833333333333332" fill="#d7263d" />
<rect x="398.6333333333333" y="1230.8" width="5.141666666666668" height="16.833333333333332" fill="#2a9d4a" />
<rect x="404.975" y="1230.8" width="5.141666666666668" height="16.833333333333332" fill="#8a8c8e" />
<rect x="411.31666666666666" y="1230.8" width="5.141666666666668" height="16.833333333333332" fill="#8a8c8e" />
<rect x="417.6583333333333" y="1230.8" width="5.141666666666668" height="16.833333333333332" fill="#d7263d" />
<rect x="347.9" y="1253.6333333333332" width="5.141666666666668" height="16.833333333333332" fill="#d7263d" />
<rect x="354.2416666666667" y="1253.6333333333332" width="5.141666666666668" height="16.833333333333332" fill="#2a9d4a" />
<rect x="360.5833333333333" y="1253.6333333333332" width="5.141666666666668" height="16.833333333333332" fill="#6d6e71" />
<rect x="366.92499999999995" y="1253.6333333333332" width="5.141666666666668" height="16.833333333333332" fill="#6d6e71" />
<rect x="373.26666666666665" y="1253.6333333333332" width="5.141666666666668" height="16.833333333333332" fill="#d7263d" />
<rect x="379.60833333333335" y="1253.6333333333332" width="5.141666666666668" height="16.833333333333332" fill="#2a9d4a" />
<rect x="385.95" y="1253.6333333333332" width="5.141666666666668" height="16.833333333333332" fill="#8a8c8e" />
<rect x="392.29166666666663" y="1253.6333333333332" width="5.141666666666668" height="16.833333333333332" fill="#8a8c8e" />
<rect x="398.6333333333333" y="1253.6333333333332" width="5.141666666666668" height="16.833333333333332" fill="#d7263d" />
<rect x="404.975" y="1253.6333333333332" width="5.141666666666668" height="16.833333333333332" fill="#1f75b8" />
<rect x="411.31666666666666" y="1253.6333333333332" width="5.141666666666668" height="16.833333333333332" fill="#1f75b8" />
<rect x="417.6583333333333" y="1253.6333333333332" width="5.141666666666668" height="16.833333333333332" fill="#1f75b8" />
<rect x="347.9" y="1276.4666666666667" width="5.141666666666668" height="16.833333333333332" fill="#6d6e71" />
<rect x="354.2416666666667" y="1276.4666666666667" width="5.141666666666668" height="16.833333333333332" fill="#d7263d" />
<rect x="360.5833333333333" y="1276.4666666666667" width="5.141666666666668" height="16.833333333333332" fill="#2a9d4a" />
<rect x="366.92499999999995" y="1276.4666666666667" width="5.141666666666668" height="16.833333333333332" fill="#8a8c8e" />
<rect x="373.26666666666665" y="1276.4666666666667" width="5.141666666666668" height="16.833333333333332" fill="#8a8c8e" />
<rect x="379.60833333333335" y="1276.4666666666667" width="5.141666666666668" height="16.833333333333332" fill="#d7263d" />
<rect x="385.95" y="1276.4666666666667" width="5.141666666666668" height="16.833333333333332" fill="#1f75b8" />
<rect x="392.29166666666663" y="1276.4666666666667" width="5.141666666666668" height="16.833333333333332" fill="#1f75b8" />
<rect x="398.6333333333333" y="1276.4666666666667" width="5.141666666666668" height="16.833333333333332" fill="#1f75b8" />
<rect x="404.975" y="1276.4666666666667" width="5.141666666666668" height="16.833333333333332" fill="#d7263d" />
<rect x="411.31666666666666" y="1276.4666666666667" width="5.141666666666668" height="16.833333333333332" fill="#2a9d4a" />
<rect x="417.6583333333333" y="1276.4666666666667" width="5.141666666666668" height="16.833333333333332" fill="#6d6e71" />
<polygon points="772.8,1222.8 861.4,1222.8 884.2,1187.3 795.6,1187.3" fill="#c09467" />
<polygon points="861.4,1222.8 884.2,1187.3 884.2,1265.8 861.4,1301.3" fill="#7a5327" />
<polygon points="772.8,1222.8 861.4,1222.8 861.4,1301.3 772.8,1301.3" fill="#8b6136" />
<rect x="778.3" y="1230.8" width="5.350000000000001" height="16.833333333333332" fill="#1f75b8" />
<rect x="784.8499999999999" y="1230.8" width="5.350000000000001" height="16.833333333333332" fill="#1f75b8" />
<rect x="791.4" y="1230.8" width="5.350000000000001" height="16.833333333333332" fill="#1f75b8" />
<rect x="797.9499999999999" y="1230.8" width="5.350000000000001" height="16.833333333333332" fill="#d7263d" />
<rect x="804.5" y="1230.8" width="5.350000000000001" height="16.833333333333332" fill="#2a9d4a" />
<rect x="811.05" y="1230.8" width="5.350000000000001" height="16.833333333333332" fill="#6d6e71" />
<rect x="817.5999999999999" y="1230.8" width="5.350000000000001" height="16.833333333333332" fill="#6d6e71" />
<rect x="824.15" y="1230.8" width="5.350000000000001" height="16.833333333333332" fill="#d7263d" />
<rect x="830.6999999999999" y="1230.8" width="5.350000000000001" height="16.833333333333332" fill="#2a9d4a" />
<rect x="837.25" y="1230.8" width="5.350000000000001" height="16.833333333333332" fill="#8a8c8e" />
<rect x="843.8" y="1230.8" width="5.350000000000001" height="16.833333333333332" fill="#8a8c8e" />
<rect x="850.3499999999999" y="1230.8" width="5.350000000000001" height="16.833333333333332" fill="#d7263d" />
<rect x="778.3" y="1253.6333333333332" width="5.350000000000001" height="16.833333333333332" fill="#d7263d" />
<rect x="784.8499999999999" y="1253.6333333333332" width="5.350000000000001" height="16.833333333333332" fill="#2a9d4a" />
<rect x="791.4" y="1253.6333333333332" width="5.350000000000001" height="16.833333333333332" fill="#6d6e71" />
<rect x="797.9499999999999" y="1253.6333333333332" width="5.350000000000001" height="16.833333333333332" fill="#6d6e71" />
<rect x="804.5" y="1253.6333333333332" width="5.350000000000001" height="16.833333333333332" fill="#d7263d" />
<rect x="811.05" y="1253.6333333333332" width="5.350000000000001" height="16.833333333333332" fill="#2a9d4a" />
<rect x="817.5999999999999" y="1253.6333333333332" width="5.350000000000001" height="16.833333333333332" fill="#8a8c8e" />
<rect x="824.15" y="1253.6333333333332" width="5.350000000000001" height="16.833333333333332" fill="#8a8c8e" />
<rect x="830.6999999999999" y="1253.6333333333332" width="5.350000000000001" height="16.833333333333332" fill="#d7263d" />
<rect x="837.25" y="1253.6333333333332" width="5.350000000000001" height="16.833333333333332" fill="#1f75b8" />
<rect x="843.8" y="1253.6333333333332" width="5.350000000000001" height="16.833333333333332" fill="#1f75b8" />
<rect x="850.3499999999999" y="1253.6333333333332" width="5.350000000000001" height="16.833333333333332" fill="#1f75b8" />
<rect x="778.3" y="1276.4666666666667" width="5.350000000000001" height="16.833333333333332" fill="#6d6e71" />
<rect x="784.8499999999999" y="1276.4666666666667" width="5.350000000000001" height="16.833333333333332" fill="#d7263d" />
<rect x="791.4" y="1276.4666666666667" width="5.350000000000001" height="16.833333333333332" fill="#2a9d4a" />
<rect x="797.9499999999999" y="1276.4666666666667" width="5.350000000000001" height="16.833333333333332" fill="#8a8c8e" />
<rect x="804.5" y="1276.4666666666667" width="5.350000000000001" height="16.833333333333332" fill="#8a8c8e" />
<rect x="811.05" y="1276.4666666666667" width="5.350000000000001" height="16.833333333333332" fill="#d7263d" />
<rect x="817.5999999999999" y="1276.4666666666667" width="5.350000000000001" height="16.833333333333332" fill="#1f75b8" />
<rect x="824.15" y="1276.4666666666667" width="5.350000000000001" height="16.833333333333332" fill="#1f75b8" />
<rect x="830.6999999999999" y="1276.4666666666667" width="5.350000000000001" height="16.833333333333332" fill="#1f75b8" />
<rect x="837.25" y="1276.4666666666667" width="5.350000000000001" height="16.833333333333332" fill="#d7263d" />
<rect x="843.8" y="1276.4666666666667" width="5.350000000000001" height="16.833333333333332" fill="#2a9d4a" />
<rect x="850.3499999999999" y="1276.4666666666667" width="5.350000000000001" height="16.833333333333332" fill="#6d6e71" />
<rect x="373" y="1196" width="18" height="22" fill="#f4f4f4" />
<rect x="373" y="1198" width="18" height="0.8" fill="#bcbec0" />
<rect x="373" y="1201" width="18" height="0.8" fill="#bcbec0" />
<rect x="373" y="1204" width="18" height="0.8" fill="#bcbec0" />
<rect x="373" y="1207" width="18" height="0.8" fill="#bcbec0" />
<rect x="373" y="1210" width="18" height="0.8" fill="#bcbec0" />
<rect x="373" y="1213" width="18" height="0.8" fill="#bcbec0" />
<rect x="373" y="1216" width="18" height="0.8" fill="#bcbec0" />
<rect x="397" y="1180" width="7" height="30" fill="#d7263d" />
<rect x="406" y="1178" width="7" height="32" fill="#d7263d" />
<rect x="414" y="1192" width="18" height="20" fill="#f4f4f4" />
<rect x="414" y="1194" width="18" height="0.8" fill="#bcbec0" />
<rect x="414" y="1197" width="18" height="0.8" fill="#bcbec0" />
<rect x="414" y="1200" width="18" height="0.8" fill="#bcbec0" />
<rect x="414" y="1203" width="18" height="0.8" fill="#bcbec0" />
<rect x="414" y="1206" width="18" height="0.8" fill="#bcbec0" />
<rect x="414" y="1209" width="18" height="0.8" fill="#bcbec0" />
<rect x="800" y="1185" width="8" height="32" fill="#d7263d" />
<rect x="826" y="1185" width="6" height="30" fill="#6d6e71" />
<rect x="838" y="1188" width="18" height="24" fill="#f4f4f4" />
<rect x="838" y="1190" width="18" height="0.8" fill="#bcbec0" />
<rect x="838" y="1193" width="18" height="0.8" fill="#bcbec0" />
<rect x="838" y="1196" width="18" height="0.8" fill="#bcbec0" />
<rect x="838" y="1199" width="18" height="0.8" fill="#bcbec0" />
<rect x="838" y="1202" width="18" height="0.8" fill="#bcbec0" />
<rect x="838" y="1205" width="18" height="0.8" fill="#bcbec0" />
<rect x="838" y="1208" width="18" height="0.8" fill="#bcbec0" />
<rect x="838" y="1211" width="18" height="0.8" fill="#bcbec0" />
<rect x="632.4" y="1180.4" width="31.2" height="38.4" rx="7.199999999999999" fill="#c7b2de"/>
<circle cx="648" cy="1172.2" r="10.2" fill="#f7c9a3"/>
<path d="M637.8,1172.2 A10.2,10.2 0 0 1 658.2,1172.2 L656.16,1168.12 L638.82,1171.18 Z" fill="#e0b870"/>
<polygon points="582.4,1296.5 680.4,1296.5 691.4,1271.5 595.4,1271.5" fill="#000000" opacity="0.1"/>
<polygon points="676.4,1240.5 691.4,1215.5 691.4,1271.5 676.4,1296.5" fill="#7a5327" />
<polygon points="584.4,1244.5 596.4,1224.5 596.4,1262.5 584.4,1296.5" fill="#6e4a22" />
<polygon points="580.4,1240.5 676.4,1240.5 691.4,1215.5 595.4,1215.5" fill="#c29868" />
<polygon points="580.4,1240.5 676.4,1240.5 676.4,1245.5 580.4,1245.5" fill="#a67d4d" />
<polygon points="580.4,1240.5 585.4,1240.5 585.4,1296.5 580.4,1296.5" fill="#a67d4d" />
<polygon points="671.4,1240.5 676.4,1240.5 676.4,1296.5 671.4,1296.5" fill="#a67d4d" />
<rect x="617" y="1243" width="11" height="42" fill="#1d4f8c" />
<rect x="634" y="1243" width="11" height="42" fill="#1d4f8c" />
<rect x="615" y="1283" width="14" height="5" fill="#231f20" />
<rect x="632" y="1283" width="14" height="5" fill="#231f20" />
<rect x="596" y="1215" width="36" height="27" fill="#231f20"/>
<rect x="611.12" y="1242" width="5.76" height="5" fill="#231f20"/>
<rect x="660" y="1215" width="20" height="28" fill="#f4f4f4" />
<rect x="660" y="1217" width="20" height="0.8" fill="#bcbec0" />
<rect x="660" y="1220" width="20" height="0.8" fill="#bcbec0" />
<rect x="660" y="1223" width="20" height="0.8" fill="#bcbec0" />
<rect x="660" y="1226" width="20" height="0.8" fill="#bcbec0" />
<rect x="660" y="1229" width="20" height="0.8" fill="#bcbec0" />
<rect x="660" y="1232" width="20" height="0.8" fill="#bcbec0" />
<rect x="660" y="1235" width="20" height="0.8" fill="#bcbec0" />
<rect x="660" y="1238" width="20" height="0.8" fill="#bcbec0" />
<rect x="660" y="1241" width="20" height="0.8" fill="#bcbec0" />
<polygon points="562.0,1296.0 586.0,1290.0 592.0,1300.0 568.0,1306.0" fill="#ffffff" />
<rect x="1146.75" y="1031.25" width="32.5" height="40.0" rx="7.5" fill="#2a6db5"/>
<circle cx="1163" cy="1022.625" r="10.625" fill="#f7c9a3"/>
<path d="M1152.375,1022.625 A10.625,10.625 0 0 1 1173.625,1022.625 L1171.5,1018.375 L1153.4375,1021.5625 Z" fill="#d7d7d7"/>
<polygon points="1131.0,1031.0 1168.0,1031.0 1168.0,1060.0 1131.0,1060.0" fill="#8b6136" />
<text x="1135" y="1055" font-family="Liberation Sans" font-size="16" font-weight="bold" fill="#ffffff" text-anchor="start" style=""  textLength="30" lengthAdjust="spacingAndGlyphs">F O</text>
<polygon points="1091.6,1140.2 1193.6,1140.2 1208.2,1109.2 1108.2,1109.2" fill="#000000" opacity="0.1"/>
<polygon points="1189.6,1093.2 1208.2,1062.2 1208.2,1109.2 1189.6,1140.2" fill="#7a5327" />
<polygon points="1093.6,1097.2 1108.5,1072.4 1108.5,1103.7 1093.6,1140.2" fill="#6e4a22" />
<polygon points="1089.6,1093.2 1189.6,1093.2 1208.2,1062.2 1108.2,1062.2" fill="#c29868" />
<polygon points="1089.6,1093.2 1189.6,1093.2 1189.6,1098.2 1089.6,1098.2" fill="#a67d4d" />
<polygon points="1089.6,1093.2 1094.6,1093.2 1094.6,1140.2 1089.6,1140.2" fill="#a67d4d" />
<polygon points="1184.6,1093.2 1189.6,1093.2 1189.6,1140.2 1184.6,1140.2" fill="#a67d4d" />
<rect x="1098" y="1062" width="42" height="27" fill="#231f20"/>
<rect x="1115.64" y="1089" width="6.72" height="5" fill="#231f20"/>
<polygon points="1115.0,1095.0 1127.0,1095.0 1125.0,1138.0 1115.0,1138.0" fill="#231f20" />
<polygon points="1131.0,1095.0 1143.0,1095.0 1141.0,1138.0 1131.0,1138.0" fill="#231f20" />
<rect x="1324.05" y="1032.55" width="29.9" height="36.8" rx="6.8999999999999995" fill="#a7a9ac"/>
<circle cx="1339" cy="1024.775" r="9.774999999999999" fill="#f7c9a3"/>
<path d="M1329.225,1024.775 A9.774999999999999,9.774999999999999 0 0 1 1348.775,1024.775 L1346.82,1020.865 L1330.2025,1023.7975 Z" fill="#231f20"/>
<polygon points="1270.0,1140.2 1402.0,1140.2 1416.6,1109.2 1286.6,1109.2" fill="#000000" opacity="0.1"/>
<polygon points="1398.0,1093.2 1416.6,1062.2 1416.6,1109.2 1398.0,1140.2" fill="#7a5327" />
<polygon points="1272.0,1097.2 1286.9,1072.4 1286.9,1103.7 1272.0,1140.2" fill="#6e4a22" />
<polygon points="1268.0,1093.2 1398.0,1093.2 1416.6,1062.2 1286.6,1062.2" fill="#c29868" />
<polygon points="1268.0,1093.2 1398.0,1093.2 1398.0,1098.2 1268.0,1098.2" fill="#a67d4d" />
<polygon points="1268.0,1093.2 1273.0,1093.2 1273.0,1140.2 1268.0,1140.2" fill="#a67d4d" />
<polygon points="1393.0,1093.2 1398.0,1093.2 1398.0,1140.2 1393.0,1140.2" fill="#a67d4d" />
<rect x="1305" y="1096" width="11" height="38" fill="#8a8c8e" />
<rect x="1324" y="1096" width="11" height="38" fill="#8a8c8e" />
<rect x="1303" y="1132" width="14" height="5" fill="#231f20" />
<rect x="1322" y="1132" width="14" height="5" fill="#231f20" />
<rect x="1279" y="1062" width="34" height="26" fill="#231f20"/>
<rect x="1293.28" y="1088" width="5.44" height="5" fill="#231f20"/>
<path d="M1350,1050 Q1345,1085 1365,1086 Q1385,1085 1380,1050 Q1372,1040 1365,1042 Q1358,1040 1350,1050 Z" fill="#8b6136"  />
<text x="1358" y="1073" font-family="Liberation Sans" font-size="18" font-weight="bold" fill="#ffffff" text-anchor="start" style=""  textLength="14" lengthAdjust="spacingAndGlyphs">&#8364;</text>
<rect x="1388" y="1048" width="18" height="26" fill="#f4f4f4" />
<rect x="1388" y="1050" width="18" height="0.8" fill="#bcbec0" />
<rect x="1388" y="1053" width="18" height="0.8" fill="#bcbec0" />
<rect x="1388" y="1056" width="18" height="0.8" fill="#bcbec0" />
<rect x="1388" y="1059" width="18" height="0.8" fill="#bcbec0" />
<rect x="1388" y="1062" width="18" height="0.8" fill="#bcbec0" />
<rect x="1388" y="1065" width="18" height="0.8" fill="#bcbec0" />
<rect x="1388" y="1068" width="18" height="0.8" fill="#bcbec0" />
<rect x="1388" y="1071" width="18" height="0.8" fill="#bcbec0" />
<path d="M1290,1092 Q1300,1120 1320,1120 Q1335,1125 1330,1148" fill="none" stroke="#1a9ed9" stroke-width="3.2" stroke-linecap="round"/>
<ellipse cx="1333" cy="1152.5" rx="13" ry="6" fill="#1a9ed9"/>
<ellipse cx="1333" cy="1150" rx="13" ry="6" fill="#9ad6f3"/>
<rect x="1459.4" y="884.4" width="31.2" height="38.4" rx="7.199999999999999" fill="#231f20"/>
<circle cx="1475" cy="876.2" r="10.2" fill="#f7c9a3"/>
<path d="M1464.8,876.2 A10.2,10.2 0 0 1 1485.2,876.2 L1483.16,872.12 L1465.82,875.18 Z" fill="#a7a9ac"/>
<polygon points="1488.0,885.0 1500.0,875.0 1520.0,860.0 1523.0,868.0 1505.0,890.0" fill="#231f20" />
<polygon points="1496.0,860.0 1540.0,852.0 1550.0,870.0 1505.0,878.0" fill="#f5e0a8" />
<text x="1545" y="852" font-family="Liberation Sans" font-size="16" font-weight="bold" fill="#231f20" text-anchor="middle" style="" >?</text>
<polygon points="1415.0,996.0 1503.0,996.0 1518.8,963.0 1432.8,963.0" fill="#000000" opacity="0.1"/>
<polygon points="1499.0,948.0 1518.8,915.0 1518.8,963.0 1499.0,996.0" fill="#7a5327" />
<polygon points="1417.0,952.0 1432.8,925.6 1432.8,957.6 1417.0,996.0" fill="#6e4a22" />
<polygon points="1413.0,948.0 1499.0,948.0 1518.8,915.0 1432.8,915.0" fill="#c29868" />
<polygon points="1413.0,948.0 1499.0,948.0 1499.0,953.0 1413.0,953.0" fill="#a67d4d" />
<polygon points="1413.0,948.0 1418.0,948.0 1418.0,996.0 1413.0,996.0" fill="#a67d4d" />
<polygon points="1494.0,948.0 1499.0,948.0 1499.0,996.0 1494.0,996.0" fill="#a67d4d" />
<rect x="1445" y="951" width="10" height="38" fill="#231f20" />
<rect x="1463" y="951" width="10" height="38" fill="#231f20" />
<rect x="1443" y="987" width="13" height="5" fill="#231f20" />
<rect x="1461" y="987" width="13" height="5" fill="#231f20" />
<rect x="1418" y="915" width="34" height="25" fill="#231f20"/>
<rect x="1432.28" y="940" width="5.44" height="5" fill="#231f20"/>
<rect x="1470" y="912" width="30" height="30" fill="#f5e3b0" />
<rect x="1470" y="914" width="30" height="0.8" fill="#c9a867" />
<rect x="1470" y="917" width="30" height="0.8" fill="#c9a867" />
<rect x="1470" y="920" width="30" height="0.8" fill="#c9a867" />
<rect x="1470" y="923" width="30" height="0.8" fill="#c9a867" />
<rect x="1470" y="926" width="30" height="0.8" fill="#c9a867" />
<rect x="1470" y="929" width="30" height="0.8" fill="#c9a867" />
<rect x="1470" y="932" width="30" height="0.8" fill="#c9a867" />
<rect x="1470" y="935" width="30" height="0.8" fill="#c9a867" />
<rect x="1470" y="938" width="30" height="0.8" fill="#c9a867" />
<rect x="1470" y="941" width="30" height="0.8" fill="#c9a867" />
<path d="M1433,940 Q1420,980 1440,990 Q1470,1000 1485,990" fill="none" stroke="#1a9ed9" stroke-width="3.2" stroke-linecap="round"/>
<ellipse cx="1490" cy="991.5" rx="13" ry="6" fill="#1a9ed9"/>
<ellipse cx="1490" cy="989" rx="13" ry="6" fill="#9ad6f3"/>
<rect x="1034.4" y="1198.4" width="31.2" height="38.4" rx="7.199999999999999" fill="#f4a3c3"/>
<circle cx="1050" cy="1190.2" r="10.2" fill="#f7c9a3"/>
<path d="M1039.8,1190.2 A10.2,10.2 0 0 1 1060.2,1190.2 L1058.16,1186.12 L1040.82,1189.18 Z" fill="#ffe600"/>
<polygon points="988.4,1299.1 1093.4,1299.1 1108.0,1268.1 1005.0,1268.1" fill="#000000" opacity="0.1"/>
<polygon points="1089.4,1252.1 1108.0,1221.1 1108.0,1268.1 1089.4,1299.1" fill="#7a5327" />
<polygon points="990.4,1256.1 1005.3,1231.3 1005.3,1262.5 990.4,1299.1" fill="#6e4a22" />
<polygon points="986.4,1252.1 1089.4,1252.1 1108.0,1221.1 1005.0,1221.1" fill="#c29868" />
<polygon points="986.4,1252.1 1089.4,1252.1 1089.4,1257.1 986.4,1257.1" fill="#a67d4d" />
<polygon points="986.4,1252.1 991.4,1252.1 991.4,1299.1 986.4,1299.1" fill="#a67d4d" />
<polygon points="1084.4,1252.1 1089.4,1252.1 1089.4,1299.1 1084.4,1299.1" fill="#a67d4d" />
<rect x="1000" y="1219" width="36" height="25" fill="#231f20"/>
<rect x="1015.12" y="1244" width="5.76" height="5" fill="#231f20"/>
<rect x="1058" y="1212" width="22" height="34" fill="#f4f4f4" />
<rect x="1058" y="1214" width="22" height="0.8" fill="#bcbec0" />
<rect x="1058" y="1217" width="22" height="0.8" fill="#bcbec0" />
<rect x="1058" y="1220" width="22" height="0.8" fill="#bcbec0" />
<rect x="1058" y="1223" width="22" height="0.8" fill="#bcbec0" />
<rect x="1058" y="1226" width="22" height="0.8" fill="#bcbec0" />
<rect x="1058" y="1229" width="22" height="0.8" fill="#bcbec0" />
<rect x="1058" y="1232" width="22" height="0.8" fill="#bcbec0" />
<rect x="1058" y="1235" width="22" height="0.8" fill="#bcbec0" />
<rect x="1058" y="1238" width="22" height="0.8" fill="#bcbec0" />
<rect x="1058" y="1241" width="22" height="0.8" fill="#bcbec0" />
<rect x="1058" y="1244" width="22" height="0.8" fill="#bcbec0" />
<polygon points="1018.0,1255.0 1035.0,1255.0 1035.0,1298.0 1018.0,1298.0" fill="#1d5f9f" />
<path d="M1018,1244 Q1012,1300 1020,1320 Q1030,1330 1045,1322" fill="none" stroke="#1a9ed9" stroke-width="3.2" stroke-linecap="round"/>
<ellipse cx="1048" cy="1324.5" rx="13" ry="6" fill="#1a9ed9"/>
<ellipse cx="1048" cy="1322" rx="13" ry="6" fill="#9ad6f3"/>
<rect x="1194.4" y="1190.4" width="31.2" height="38.4" rx="7.199999999999999" fill="#a7a9ac"/>
<circle cx="1210" cy="1182.2" r="10.2" fill="#f7c9a3"/>
<path d="M1199.8,1182.2 A10.2,10.2 0 0 1 1220.2,1182.2 L1218.16,1178.12 L1200.82,1181.18 Z" fill="#231f20"/>
<polygon points="1152.9,1299.1 1254.9,1299.1 1269.5,1268.1 1169.5,1268.1" fill="#000000" opacity="0.1"/>
<polygon points="1250.9,1252.1 1269.5,1221.1 1269.5,1268.1 1250.9,1299.1" fill="#7a5327" />
<polygon points="1154.9,1256.1 1169.8,1231.3 1169.8,1262.5 1154.9,1299.1" fill="#6e4a22" />
<polygon points="1150.9,1252.1 1250.9,1252.1 1269.5,1221.1 1169.5,1221.1" fill="#c29868" />
<polygon points="1150.9,1252.1 1250.9,1252.1 1250.9,1257.1 1150.9,1257.1" fill="#a67d4d" />
<polygon points="1150.9,1252.1 1155.9,1252.1 1155.9,1299.1 1150.9,1299.1" fill="#a67d4d" />
<polygon points="1245.9,1252.1 1250.9,1252.1 1250.9,1299.1 1245.9,1299.1" fill="#a67d4d" />
<rect x="1185" y="1255" width="10" height="38" fill="#8a8c8e" />
<rect x="1203" y="1255" width="10" height="38" fill="#8a8c8e" />
<rect x="1183" y="1291" width="13" height="5" fill="#231f20" />
<rect x="1201" y="1291" width="13" height="5" fill="#231f20" />
<rect x="1159" y="1214" width="36" height="27" fill="#231f20"/>
<rect x="1174.12" y="1241" width="5.76" height="5" fill="#231f20"/>
<polygon points="1212.0,1230.0 1240.0,1230.0 1240.0,1245.0 1212.0,1245.0" fill="#8a8c8e" />
<path d="M1177,1242 Q1172,1300 1182,1320 Q1192,1330 1206,1322" fill="none" stroke="#1a9ed9" stroke-width="3.2" stroke-linecap="round"/>
<ellipse cx="1210" cy="1324.5" rx="13" ry="6" fill="#1a9ed9"/>
<ellipse cx="1210" cy="1322" rx="13" ry="6" fill="#9ad6f3"/>
<text x="940" y="1170" font-family="Liberation Sans" font-size="7" font-weight="normal" fill="#4d4d4f" text-anchor="start" style=""  textLength="55" lengthAdjust="spacingAndGlyphs">010010101010</text>
<text x="944" y="1179" font-family="Liberation Sans" font-size="7" font-weight="normal" fill="#4d4d4f" text-anchor="start" style=""  textLength="49" lengthAdjust="spacingAndGlyphs">00111010101</text>
<text x="947" y="1188" font-family="Liberation Sans" font-size="7" font-weight="normal" fill="#4d4d4f" text-anchor="start" style=""  textLength="45" lengthAdjust="spacingAndGlyphs">00100011...</text>
<text x="0" y="0" font-family="Liberation Sans" font-size="14.5" font-weight="bold" font-style="italic" fill="#ffffff" textLength="268" lengthAdjust="spacingAndGlyphs" transform="translate(1358,1293) rotate(-57.3)">Privacy en betrouwbaarheid</text>
<rect x="1720.4" y="908.4" width="31.2" height="38.4" rx="7.199999999999999" fill="#f2e200"/>
<circle cx="1736" cy="900.2" r="10.2" fill="#f7c9a3"/>
<path d="M1725.8,900.2 A10.2,10.2 0 0 1 1746.2,900.2 L1744.16,896.12 L1726.82,899.18 Z" fill="#231f20"/>
<polygon points="1700.0,912.0 1720.0,910.0 1716.0,935.0 1697.0,930.0" fill="#f2e200" />
<polygon points="1710.0,975.0 1760.0,975.0 1765.0,1010.0 1708.0,1010.0" fill="#f2e200" />
<polygon points="1676.8,1018.8 1774.8,1018.8 1792.7,982.3 1696.7,982.3" fill="#000000" opacity="0.1"/>
<polygon points="1770.8,974.8 1792.7,938.3 1792.7,982.3 1770.8,1018.8" fill="#7a5327" />
<polygon points="1678.8,978.8 1696.3,949.6 1696.3,978.6 1678.8,1018.8" fill="#6e4a22" />
<polygon points="1674.8,974.8 1770.8,974.8 1792.7,938.3 1696.7,938.3" fill="#c29868" />
<polygon points="1674.8,974.8 1770.8,974.8 1770.8,979.8 1674.8,979.8" fill="#a67d4d" />
<polygon points="1674.8,974.8 1679.8,974.8 1679.8,1018.8 1674.8,1018.8" fill="#a67d4d" />
<polygon points="1765.8,974.8 1770.8,974.8 1770.8,1018.8 1765.8,1018.8" fill="#a67d4d" />
<rect x="1712" y="978" width="12" height="36" fill="#f2e200" />
<rect x="1730" y="978" width="12" height="36" fill="#f2e200" />
<rect x="1710" y="1012" width="15" height="5" fill="#231f20" />
<rect x="1728" y="1012" width="15" height="5" fill="#231f20" />
<rect x="1690" y="938" width="33" height="24" fill="#231f20"/>
<rect x="1703.86" y="962" width="5.28" height="5" fill="#231f20"/>
<rect x="1745" y="905" width="27" height="40" fill="#f5e3b0" />
<rect x="1745" y="907" width="27" height="0.8" fill="#c9a867" />
<rect x="1745" y="910" width="27" height="0.8" fill="#c9a867" />
<rect x="1745" y="913" width="27" height="0.8" fill="#c9a867" />
<rect x="1745" y="916" width="27" height="0.8" fill="#c9a867" />
<rect x="1745" y="919" width="27" height="0.8" fill="#c9a867" />
<rect x="1745" y="922" width="27" height="0.8" fill="#c9a867" />
<rect x="1745" y="925" width="27" height="0.8" fill="#c9a867" />
<rect x="1745" y="928" width="27" height="0.8" fill="#c9a867" />
<rect x="1745" y="931" width="27" height="0.8" fill="#c9a867" />
<rect x="1745" y="934" width="27" height="0.8" fill="#c9a867" />
<rect x="1745" y="937" width="27" height="0.8" fill="#c9a867" />
<rect x="1745" y="940" width="27" height="0.8" fill="#c9a867" />
<rect x="1745" y="943" width="27" height="0.8" fill="#c9a867" />
<rect x="1645.4" y="1027.4" width="31.2" height="38.4" rx="7.199999999999999" fill="#d9358c"/>
<circle cx="1661" cy="1019.2" r="10.2" fill="#f7c9a3"/>
<path d="M1650.8,1019.2 A10.2,10.2 0 0 1 1671.2,1019.2 L1669.16,1015.12 L1651.82,1018.18 Z" fill="#231f20"/>
<polygon points="1620.0,1035.0 1645.0,1030.0 1648.0,1040.0 1622.0,1045.0" fill="#d9358c" />
<polygon points="1640.0,1098.0 1675.0,1098.0 1678.0,1125.0 1638.0,1125.0" fill="#d9358c" />
<polygon points="1594.7,1142.0 1695.7,1142.0 1713.6,1105.5 1614.6,1105.5" fill="#000000" opacity="0.1"/>
<polygon points="1691.7,1098.0 1713.6,1061.5 1713.6,1105.5 1691.7,1142.0" fill="#7a5327" />
<polygon points="1596.7,1102.0 1614.2,1072.8 1614.2,1101.8 1596.7,1142.0" fill="#6e4a22" />
<polygon points="1592.7,1098.0 1691.7,1098.0 1713.6,1061.5 1614.6,1061.5" fill="#c29868" />
<polygon points="1592.7,1098.0 1691.7,1098.0 1691.7,1103.0 1592.7,1103.0" fill="#a67d4d" />
<polygon points="1592.7,1098.0 1597.7,1098.0 1597.7,1142.0 1592.7,1142.0" fill="#a67d4d" />
<polygon points="1686.7,1098.0 1691.7,1098.0 1691.7,1142.0 1686.7,1142.0" fill="#a67d4d" />
<rect x="1632" y="1101" width="10" height="36" fill="#d9358c" />
<rect x="1648" y="1101" width="10" height="36" fill="#d9358c" />
<rect x="1630" y="1135" width="13" height="5" fill="#231f20" />
<rect x="1646" y="1135" width="13" height="5" fill="#231f20" />
<rect x="1609" y="1060" width="34" height="25" fill="#231f20"/>
<rect x="1623.28" y="1085" width="5.44" height="5" fill="#231f20"/>
<rect x="1663" y="1050" width="24" height="38" fill="#f5e3b0" />
<rect x="1663" y="1052" width="24" height="0.8" fill="#c9a867" />
<rect x="1663" y="1055" width="24" height="0.8" fill="#c9a867" />
<rect x="1663" y="1058" width="24" height="0.8" fill="#c9a867" />
<rect x="1663" y="1061" width="24" height="0.8" fill="#c9a867" />
<rect x="1663" y="1064" width="24" height="0.8" fill="#c9a867" />
<rect x="1663" y="1067" width="24" height="0.8" fill="#c9a867" />
<rect x="1663" y="1070" width="24" height="0.8" fill="#c9a867" />
<rect x="1663" y="1073" width="24" height="0.8" fill="#c9a867" />
<rect x="1663" y="1076" width="24" height="0.8" fill="#c9a867" />
<rect x="1663" y="1079" width="24" height="0.8" fill="#c9a867" />
<rect x="1663" y="1082" width="24" height="0.8" fill="#c9a867" />
<rect x="1663" y="1085" width="24" height="0.8" fill="#c9a867" />
<rect x="1700" y="1110" width="16" height="24" fill="#f4f4f4" />
<rect x="1700" y="1112" width="16" height="0.8" fill="#bcbec0" />
<rect x="1700" y="1115" width="16" height="0.8" fill="#bcbec0" />
<rect x="1700" y="1118" width="16" height="0.8" fill="#bcbec0" />
<rect x="1700" y="1121" width="16" height="0.8" fill="#bcbec0" />
<rect x="1700" y="1124" width="16" height="0.8" fill="#bcbec0" />
<rect x="1700" y="1127" width="16" height="0.8" fill="#bcbec0" />
<rect x="1700" y="1130" width="16" height="0.8" fill="#bcbec0" />
<rect x="1700" y="1133" width="16" height="0.8" fill="#bcbec0" />
<rect x="1566.05" y="1148.55" width="29.9" height="36.8" rx="6.8999999999999995" fill="#1a9a4a"/>
<circle cx="1581" cy="1140.775" r="9.774999999999999" fill="#6b4226"/>
<path d="M1571.225,1140.775 A9.774999999999999,9.774999999999999 0 0 1 1590.775,1140.775 L1588.82,1136.865 L1572.2025,1139.7975 Z" fill="#231f20"/>
<polygon points="1548.0,1130.0 1566.0,1150.0 1572.0,1165.0 1555.0,1160.0 1540.0,1136.0" fill="#1a9a4a" />
<polygon points="1520.2,1260.5 1619.2,1260.5 1637.1,1224.0 1540.1,1224.0" fill="#000000" opacity="0.1"/>
<polygon points="1615.2,1216.5 1637.1,1180.0 1637.1,1224.0 1615.2,1260.5" fill="#7a5327" />
<polygon points="1522.2,1220.5 1539.7,1191.3 1539.7,1220.3 1522.2,1260.5" fill="#6e4a22" />
<polygon points="1518.2,1216.5 1615.2,1216.5 1637.1,1180.0 1540.1,1180.0" fill="#c29868" />
<polygon points="1518.2,1216.5 1615.2,1216.5 1615.2,1221.5 1518.2,1221.5" fill="#a67d4d" />
<polygon points="1518.2,1216.5 1523.2,1216.5 1523.2,1260.5 1518.2,1260.5" fill="#a67d4d" />
<polygon points="1610.2,1216.5 1615.2,1216.5 1615.2,1260.5 1610.2,1260.5" fill="#a67d4d" />
<rect x="1533" y="1180" width="35" height="25" fill="#231f20"/>
<rect x="1547.7" y="1205" width="5.6000000000000005" height="5" fill="#231f20"/>
<rect x="1590" y="1180" width="22" height="30" fill="#f4f4f4" />
<rect x="1590" y="1182" width="22" height="0.8" fill="#bcbec0" />
<rect x="1590" y="1185" width="22" height="0.8" fill="#bcbec0" />
<rect x="1590" y="1188" width="22" height="0.8" fill="#bcbec0" />
<rect x="1590" y="1191" width="22" height="0.8" fill="#bcbec0" />
<rect x="1590" y="1194" width="22" height="0.8" fill="#bcbec0" />
<rect x="1590" y="1197" width="22" height="0.8" fill="#bcbec0" />
<rect x="1590" y="1200" width="22" height="0.8" fill="#bcbec0" />
<rect x="1590" y="1203" width="22" height="0.8" fill="#bcbec0" />
<rect x="1590" y="1206" width="22" height="0.8" fill="#bcbec0" />
<rect x="1590" y="1209" width="22" height="0.8" fill="#bcbec0" />
<polygon points="1550.0,1220.0 1560.0,1220.0 1560.0,1258.0 1550.0,1258.0" fill="#6d6e71" />
<polygon points="1566.0,1220.0 1576.0,1220.0 1576.0,1258.0 1566.0,1258.0" fill="#6d6e71" />
<polygon points="1577.5,1026.0 1619.5,1014.0 1630.5,1026.0 1588.5,1038.0" fill="#fbe9b7" stroke="#f0a040" stroke-width="1.5"/>
<path d="M1595.5,1016 L1601.5,1024 L1617.5,1004" fill="none" stroke="#3aa845" stroke-width="3.5" />
<polygon points="1506.0,1107.0 1548.0,1095.0 1559.0,1107.0 1517.0,1119.0" fill="#fbe9b7" stroke="#f0a040" stroke-width="1.5"/>
<path d="M1524,1097 L1530,1105 L1546,1085" fill="none" stroke="#3aa845" stroke-width="3.5" />
<path d="M1550,859 Q1625,840 1697,888" fill="none" stroke="#1a9ed9" stroke-width="6.5" stroke-linecap="round" stroke-dasharray="0.1,14"/>
<path d="M1542,887 Q1600,905 1601,1010" fill="none" stroke="#1a9ed9" stroke-width="6.5" stroke-linecap="round" stroke-dasharray="0.1,14"/>
<path d="M1523,891 L1527,1078" fill="none" stroke="#1a9ed9" stroke-width="6.5" stroke-linecap="round" stroke-dasharray="0.1,14"/>
<path d="M1700,963 Q1700,1000 1720,1012 Q1760,1030 1800,1010" fill="none" stroke="#1a9ed9" stroke-width="3.2" stroke-linecap="round"/>
<path d="M1622,1082 Q1625,1150 1660,1160 Q1730,1165 1740,1115" fill="none" stroke="#1a9ed9" stroke-width="3.2" stroke-linecap="round"/>
<path d="M1545,1202 Q1545,1260 1600,1262 Q1660,1262 1685,1213" fill="none" stroke="#1a9ed9" stroke-width="3.2" stroke-linecap="round"/>
<text x="431" y="995" font-family="Liberation Sans" font-size="17" font-weight="bold" fill="#1a1a1a" text-anchor="start" style="font-style:italic;"  textLength="40.5" lengthAdjust="spacingAndGlyphs">ABO</text>
<text x="398" y="1058.2" font-family="Liberation Sans" font-size="19" font-weight="bold" fill="#1a1a1a" text-anchor="start" style="font-style:italic;"  textLength="40.6" lengthAdjust="spacingAndGlyphs">RNI</text>
<text x="360" y="1119" font-family="Liberation Sans" font-size="19" font-weight="bold" fill="#1a1a1a" text-anchor="start" style="font-style:italic;"  textLength="40.6" lengthAdjust="spacingAndGlyphs">IND</text>
<text x="486.7" y="1349.4" font-family="Liberation Sans" font-size="19" font-weight="bold" fill="#1a1a1a" text-anchor="start" style="font-style:italic;"  textLength="131.7" lengthAdjust="spacingAndGlyphs">GEMEENTEN</text>
<text x="479" y="1379.7" font-family="Liberation Sans" font-size="22" font-weight="bold" fill="#fff" text-anchor="start" style=""  textLength="101.4" lengthAdjust="spacingAndGlyphs">AANGIFTE</text>
<text x="1064.5" y="1379.7" font-family="Liberation Sans" font-size="22" font-weight="bold" fill="#fff" text-anchor="start" style=""  textLength="80.8" lengthAdjust="spacingAndGlyphs">BEHEER</text>
<text x="1351.6" y="1379.7" font-family="Liberation Sans" font-size="22" font-weight="bold" fill="#fff" text-anchor="start" style=""  textLength="298.4" lengthAdjust="spacingAndGlyphs">GEBRUIK EN TERUGMELDING</text>
<text x="1396.2" y="1349.4" font-family="Liberation Sans" font-size="19" font-weight="bold" fill="#1a1a1a" text-anchor="start" style="font-style:italic;"  textLength="245.4" lengthAdjust="spacingAndGlyphs">DUIZENDEN AFNEMERS</text>
<text x="1092.4" y="1349.4" font-family="Liberation Sans" font-size="19" font-weight="normal" fill="#1a1a1a" text-anchor="start" style="font-style:italic;"  textLength="47.4" lengthAdjust="spacingAndGlyphs">RvIG</text>
<text x="1382.3" y="1031" font-family="Liberation Sans" font-size="20" font-weight="bold" fill="#1f8a84" text-anchor="start" style="font-style:italic;"  textLength="103.1" lengthAdjust="spacingAndGlyphs">Autorisatie</text>
<text x="1067.3" y="1166" font-family="Liberation Sans" font-size="20" font-weight="bold" fill="#1f8a84" text-anchor="start" style="font-style:italic;"  textLength="119.9" lengthAdjust="spacingAndGlyphs">Verstrekking</text>
<text x="1256.8" y="1166" font-family="Liberation Sans" font-size="20" font-weight="bold" fill="#1f8a84" text-anchor="start" style="font-style:italic;"  textLength="125.5" lengthAdjust="spacingAndGlyphs">Voorschriften</text>
<text x="967" y="1326" font-family="Liberation Sans" font-size="20" font-weight="bold" fill="#1f8a84" text-anchor="start" style="font-style:italic;"  textLength="36" lengthAdjust="spacingAndGlyphs">ICT-</text>
<text x="950" y="1349" font-family="Liberation Sans" font-size="20" font-weight="bold" fill="#1f8a84" text-anchor="start" style="font-style:italic;"  textLength="70" lengthAdjust="spacingAndGlyphs">beheer</text>
<text x="1231.8" y="1326" font-family="Liberation Sans" font-size="20" font-weight="bold" fill="#1f8a84" text-anchor="start" style="font-style:italic;"  textLength="86.2" lengthAdjust="spacingAndGlyphs">Kwaliteit</text>
<text x="1195.5" y="1349" font-family="Liberation Sans" font-size="20" font-weight="bold" fill="#1f8a84" text-anchor="start" style="font-style:italic;"  textLength="108.5" lengthAdjust="spacingAndGlyphs">monitoring</text>
<path d="M547.3,790.0 L547.3,1289.0" fill="none" stroke="#1a9ed9" stroke-width="17.5" stroke-linejoin="round" stroke-linecap="butt"/>
<ellipse cx="547.3" cy="1291.5" rx="15" ry="7" fill="#1a9ed9"/>
<ellipse cx="547.3" cy="1289" rx="15" ry="7" fill="#9ad6f3"/>
<path d="M637.3,690.0 L637.3,1112.0" fill="none" stroke="#1a9ed9" stroke-width="17.5" stroke-linejoin="round" stroke-linecap="butt"/>
<ellipse cx="637.3" cy="1114.5" rx="15" ry="7" fill="#1a9ed9"/>
<ellipse cx="637.3" cy="1112" rx="15" ry="7" fill="#9ad6f3"/>
<path d="M694.4,790.0 L694.4,1053.0" fill="none" stroke="#1a9ed9" stroke-width="17.5" stroke-linejoin="round" stroke-linecap="butt"/>
<ellipse cx="694.4" cy="1055.5" rx="15" ry="7" fill="#1a9ed9"/>
<ellipse cx="694.4" cy="1053" rx="15" ry="7" fill="#9ad6f3"/>
<path d="M694.4,1001.7 L760.0,1001.7" fill="none" stroke="#1a9ed9" stroke-width="4" stroke-linejoin="round" stroke-linecap="round"/>
<path d="M637.3,1063.8 L889.0,1063.8" fill="none" stroke="#1a9ed9" stroke-width="4" stroke-linejoin="round" stroke-linecap="round"/>
<path d="M547.3,1235.4 L613.0,1235.4" fill="none" stroke="#1a9ed9" stroke-width="4" stroke-linejoin="round" stroke-linecap="round"/>
<path d="M928.0,795.0 L928.0,822.0 L1804.0,822.0" fill="none" stroke="#1a9ed9" stroke-width="7.6" stroke-linejoin="round" stroke-linecap="round"/>
<path d="M1051.0,795.0 L1051.0,822.0" fill="none" stroke="#1a9ed9" stroke-width="7.6" stroke-linejoin="round" stroke-linecap="round"/>
<path d="M1077.0,795.0 L1077.0,822.0" fill="none" stroke="#1a9ed9" stroke-width="7.6" stroke-linejoin="round" stroke-linecap="round"/>
<path d="M1275.0,795.0 L1275.0,822.0" fill="none" stroke="#1a9ed9" stroke-width="7.6" stroke-linejoin="round" stroke-linecap="round"/>
<path d="M1510.5,795.0 L1510.5,822.0" fill="none" stroke="#1a9ed9" stroke-width="7.6" stroke-linejoin="round" stroke-linecap="round"/>
<path d="M1603.6,795.0 L1603.6,822.0" fill="none" stroke="#1a9ed9" stroke-width="7.6" stroke-linejoin="round" stroke-linecap="round"/>
<path d="M1804.0,822.0 L1804.0,1007.0" fill="none" stroke="#1a9ed9" stroke-width="7.6" stroke-linejoin="round" stroke-linecap="round"/>
<path d="M1804.0,822.0 L1684.0,1004.0 L1686.0,1211.0" fill="none" stroke="#1a9ed9" stroke-width="7.6" stroke-linejoin="round" stroke-linecap="round"/>
<path d="M1741.0,921.6 L1743.0,1112.0" fill="none" stroke="#1a9ed9" stroke-width="7.6" stroke-linejoin="round" stroke-linecap="round"/>
<ellipse cx="1804" cy="1009.5" rx="13" ry="6" fill="#1a9ed9"/>
<ellipse cx="1804" cy="1007" rx="13" ry="6" fill="#9ad6f3"/>
<ellipse cx="1743" cy="1114.5" rx="13" ry="6" fill="#1a9ed9"/>
<ellipse cx="1743" cy="1112" rx="13" ry="6" fill="#9ad6f3"/>
<ellipse cx="1686" cy="1213.5" rx="13" ry="6" fill="#1a9ed9"/>
<ellipse cx="1686" cy="1211" rx="13" ry="6" fill="#9ad6f3"/>
<polygon points="437.0,357.0 811.6,357.0 558.4,752.8 183.8,752.8" fill="#b6d69e" />
<polygon points="183.8,752.0 558.4,752.0 558.4,776.5 183.8,776.5" fill="#a2cf82" />
<polygon points="557.8,752.0 811.0,357.0 811.0,381.5 557.8,776.5" fill="#86ae5f" />
<polygon points="183.8,775.7 558.4,775.7 558.4,799.7 183.8,799.7" fill="#a47bb8" />
<polygon points="557.8,775.7 811.0,380.7 811.0,404.7 557.8,799.7" fill="#7c5a8c" />
<polygon points="913.0,357.0 1922.6,357.0 1669.4,752.8 659.8,752.8" fill="#8ec96b" />
<polygon points="659.8,752.0 1669.4,752.0 1669.4,777.3 659.8,777.3" fill="#6dbb46" />
<polygon points="1668.8,752.0 1922.0,357.0 1922.0,382.3 1668.8,777.3" fill="#4f9c3a" />
<polygon points="659.8,776.5 1669.4,776.5 1669.4,800.0 659.8,800.0" fill="#a47bb8" />
<polygon points="1668.8,776.5 1922.0,381.5 1922.0,405.0 1668.8,800.0" fill="#7c5a8c" />
<polygon points="1702.1,700.0 1668.8,752.0 1668.8,776.5 1702.1,724.5" fill="#b8ad62" />
<polygon points="1870.7,437.0 1702.1,700.0 1702.1,724.5 1870.7,461.5" fill="#7d9fa8" />
<polygon points="1881.6,420.0 1870.7,437.0 1870.7,461.5 1881.6,444.5" fill="#b8ad62" />
<polygon points="400.0,381.1 480.0,381.1 489.4,369.1 510.2,393.6 457.2,418.1 464.5,405.6 390.0,405.6" fill="#ffffff" />
<polygon points="360.0,450.7 436.4,450.7 444.7,438.2 465.5,462.1 413.6,487.0 420.9,474.6 350.0,474.6" fill="#ffffff" />
<polygon points="310.0,526.5 387.6,526.5 396.0,514.0 416.7,537.9 363.8,562.8 371.0,550.4 300.0,550.4" fill="#ffffff" />
<polygon points="280.0,577.4 412.6,577.4 424.0,559.7 515.5,652.8 302.5,752.0 311.9,732.1 180.0,732.1" fill="#ffffff" />
<text x="420" y="400" font-family="Liberation Sans" font-size="19" font-weight="bold" fill="#6aa84f" text-anchor="start" style="font-style:italic;" >ABO</text>
<text x="377.5" y="469" font-family="Liberation Sans" font-size="19" font-weight="bold" fill="#6aa84f" text-anchor="start" style="font-style:italic;" >RNI</text>
<text x="328.5" y="545" font-family="Liberation Sans" font-size="19" font-weight="bold" fill="#6aa84f" text-anchor="start" style="font-style:italic;" >IND</text>
<text x="264" y="657" font-family="Liberation Sans" font-size="18.5" font-weight="bold" fill="#6aa84f" text-anchor="start" style="font-style:italic;" >GEMEENTE</text>
<polygon points="607.0,616.0 1122.0,616.0 1084.0,676.0 607.0,676.0" fill="#ffffff" />
<polygon points="1028.0,557.0 1368.0,557.0 1330.0,616.5 990.0,616.5" fill="#ffffff" />
<polygon points="1246.0,615.5 1580.0,615.5 1560.0,676.0 1208.0,676.0" fill="#ffffff" />
<polygon points="607.0,676.0 707.0,676.0 707.0,699.0 607.0,699.0" fill="#d9dadc" />
<polygon points="1532.0,381.5 1537.0,359.0 1562.0,341.7 1604.0,321.8 1654.0,309.4 1716.0,294.5 1835.0,294.5 1867.5,302.0 1897.0,319.4 1912.0,336.7 1921.5,356.0 1902.0,379.0 1852.6,386.4 1820.0,389.0 1778.0,389.0 1728.0,391.4 1678.7,396.4 1658.8,408.8 1654.0,418.7 1639.0,423.7 1619.0,416.2 1589.0,406.3 1562.0,396.4" fill="#c69c72" />
<ellipse cx="1575" cy="378" rx="38" ry="14" fill="#a8845d" opacity="0.8"/>
<ellipse cx="1706" cy="362" rx="46" ry="15" fill="#a8845d" opacity="0.8"/>
<ellipse cx="1860" cy="344" rx="44" ry="15" fill="#a8845d" opacity="0.8"/>
<ellipse cx="1552" cy="437" rx="42" ry="15" fill="#6f9b55" opacity="0.55"/>
<ellipse cx="1620" cy="430" rx="36" ry="12" fill="#8a7a5a" opacity="0.4"/>
<polygon points="1762.0,319.0 1802.0,319.0 1787.0,342.0 1830.0,419.0 1812.0,419.0 1760.0,348.0 1775.0,325.0" fill="#fbf3cf" />
<polygon points="1714.7,285.8 1819.0,285.8 1819.0,319.4 1714.7,319.4" fill="#ffffff" />
<polygon points="1819.0,247.3 1835.0,247.3 1835.0,294.5 1819.0,294.5" fill="#d9b48c" />
<polygon points="1730.0,247.3 1835.0,247.3 1819.0,285.8 1722.0,285.8" fill="#d27c4e" />
<path d="M1735,317 L1735,303 A13.5,10 0 0 1 1762,303 L1762,317 Z" fill="#231f20"  />
<path d="M1779,317 L1779,303 A13,10 0 0 1 1805,303 L1805,317 Z" fill="#231f20"  />
<ellipse cx="1764" cy="290" rx="26" ry="8" fill="#3d9a4a" />
<path d="M1764,292 L1766,318" fill="none" stroke="#7a5a2e" stroke-width="2" />
<path d="M1543,447 Q1542.52,399.8 1540.6,352.6" fill="none" stroke="#7a5a2e" stroke-width="5" stroke-linecap="round"/>
<path d="M1540.6,352.6 Q1513.8,328.6 1493.1,364.0 Q1518.0,346.2 1540.6,352.6 Z" fill="#1b8a44"  />
<path d="M1540.6,352.6 Q1506.4,343.7 1498.8,386.8 Q1517.8,357.7 1540.6,352.6 Z" fill="#22a04d"  />
<path d="M1540.6,352.6 Q1511.4,356.6 1519.7,400.1 Q1528.0,363.8 1540.6,352.6 Z" fill="#6cbf4a"  />
<path d="M1540.6,352.6 Q1563.9,344.4 1588.1,360.2 Q1566.7,326.6 1540.6,352.6 Z" fill="#1b8a44"  />
<path d="M1540.6,352.6 Q1565.8,356.2 1584.3,383.0 Q1576.2,341.4 1540.6,352.6 Z" fill="#22a04d"  />
<path d="M1540.6,352.6 Q1555.1,363.8 1561.5,400.1 Q1571.7,356.6 1540.6,352.6 Z" fill="#1b8a44"  />
<path d="M1540.6,352.6 Q1540.3,326.4 1519.7,324.1 Q1525.7,337.0 1540.6,352.6 Z" fill="#6cbf4a"  />
<path d="M1540.6,352.6 Q1535.5,368.0 1546.3,396.3 Q1553.3,365.7 1540.6,352.6 Z" fill="#22a04d"  />
<path d="M1583.3,367.3 Q1583.8400000000001,321.3 1586,275.3" fill="none" stroke="#7a5a2e" stroke-width="5" stroke-linecap="round"/>
<path d="M1586.0,275.3 Q1557.8,250.1 1536.0,287.3 Q1562.2,268.5 1586.0,275.3 Z" fill="#1b8a44"  />
<path d="M1586.0,275.3 Q1550.0,265.9 1542.0,311.3 Q1562.0,280.7 1586.0,275.3 Z" fill="#22a04d"  />
<path d="M1586.0,275.3 Q1555.3,279.5 1564.0,325.3 Q1572.7,287.1 1586.0,275.3 Z" fill="#6cbf4a"  />
<path d="M1586.0,275.3 Q1610.5,266.7 1636.0,283.3 Q1613.5,247.9 1586.0,275.3 Z" fill="#1b8a44"  />
<path d="M1586.0,275.3 Q1612.6,279.1 1632.0,307.3 Q1623.4,263.5 1586.0,275.3 Z" fill="#22a04d"  />
<path d="M1586.0,275.3 Q1601.3,287.1 1608.0,325.3 Q1618.7,279.5 1586.0,275.3 Z" fill="#1b8a44"  />
<path d="M1586.0,275.3 Q1585.7,247.7 1564.0,245.3 Q1570.3,258.9 1586.0,275.3 Z" fill="#6cbf4a"  />
<path d="M1586.0,275.3 Q1580.6,291.5 1592.0,321.3 Q1599.4,289.1 1586.0,275.3 Z" fill="#22a04d"  />
<path d="M1622,434 Q1624.92,392.0 1636.6,350" fill="none" stroke="#7a5a2e" stroke-width="5" stroke-linecap="round"/>
<path d="M1636.6,350.0 Q1609.8,326.0 1589.1,361.4 Q1614.0,343.6 1636.6,350.0 Z" fill="#1b8a44"  />
<path d="M1636.6,350.0 Q1602.4,341.1 1594.8,384.2 Q1613.8,355.1 1636.6,350.0 Z" fill="#22a04d"  />
<path d="M1636.6,350.0 Q1607.4,354.0 1615.7,397.5 Q1624.0,361.2 1636.6,350.0 Z" fill="#6cbf4a"  />
<path d="M1636.6,350.0 Q1659.9,341.8 1684.1,357.6 Q1662.7,324.0 1636.6,350.0 Z" fill="#1b8a44"  />
<path d="M1636.6,350.0 Q1661.8,353.6 1680.3,380.4 Q1672.2,338.8 1636.6,350.0 Z" fill="#22a04d"  />
<path d="M1636.6,350.0 Q1651.1,361.2 1657.5,397.5 Q1667.7,354.0 1636.6,350.0 Z" fill="#1b8a44"  />
<path d="M1636.6,350.0 Q1636.3,323.8 1615.7,321.5 Q1621.7,334.4 1636.6,350.0 Z" fill="#6cbf4a"  />
<path d="M1636.6,350.0 Q1631.5,365.4 1642.3,393.7 Q1649.3,363.1 1636.6,350.0 Z" fill="#22a04d"  />
<path d="M1702,360.6 Q1698.0,314.6 1682,268.6" fill="none" stroke="#7a5a2e" stroke-width="5" stroke-linecap="round"/>
<path d="M1682.0,268.6 Q1652.4,242.1 1629.5,281.2 Q1657.0,261.5 1682.0,268.6 Z" fill="#1b8a44"  />
<path d="M1682.0,268.6 Q1644.2,258.8 1635.8,306.4 Q1656.8,274.2 1682.0,268.6 Z" fill="#22a04d"  />
<path d="M1682.0,268.6 Q1649.8,273.0 1658.9,321.1 Q1668.0,281.0 1682.0,268.6 Z" fill="#6cbf4a"  />
<path d="M1682.0,268.6 Q1707.7,259.5 1734.5,277.0 Q1710.9,239.9 1682.0,268.6 Z" fill="#1b8a44"  />
<path d="M1682.0,268.6 Q1709.9,272.6 1730.3,302.2 Q1721.3,256.2 1682.0,268.6 Z" fill="#22a04d"  />
<path d="M1682.0,268.6 Q1698.1,281.0 1705.1,321.1 Q1716.3,273.0 1682.0,268.6 Z" fill="#1b8a44"  />
<path d="M1682.0,268.6 Q1681.6,239.6 1658.9,237.1 Q1665.6,251.4 1682.0,268.6 Z" fill="#6cbf4a"  />
<path d="M1682.0,268.6 Q1676.3,285.6 1688.3,316.9 Q1696.1,283.1 1682.0,268.6 Z" fill="#22a04d"  />
<path d="M1860,351.6 Q1863.0,308.15 1875,264.7" fill="none" stroke="#7a5a2e" stroke-width="5" stroke-linecap="round"/>
<path d="M1875.0,264.7 Q1846.8,239.5 1825.0,276.7 Q1851.2,257.9 1875.0,264.7 Z" fill="#1b8a44"  />
<path d="M1875.0,264.7 Q1839.0,255.3 1831.0,300.7 Q1851.0,270.1 1875.0,264.7 Z" fill="#22a04d"  />
<path d="M1875.0,264.7 Q1844.3,268.9 1853.0,314.7 Q1861.7,276.5 1875.0,264.7 Z" fill="#6cbf4a"  />
<path d="M1875.0,264.7 Q1899.5,256.1 1925.0,272.7 Q1902.5,237.3 1875.0,264.7 Z" fill="#1b8a44"  />
<path d="M1875.0,264.7 Q1901.6,268.5 1921.0,296.7 Q1912.4,252.9 1875.0,264.7 Z" fill="#22a04d"  />
<path d="M1875.0,264.7 Q1890.3,276.5 1897.0,314.7 Q1907.7,268.9 1875.0,264.7 Z" fill="#1b8a44"  />
<path d="M1875.0,264.7 Q1874.7,237.1 1853.0,234.7 Q1859.3,248.3 1875.0,264.7 Z" fill="#6cbf4a"  />
<path d="M1875.0,264.7 Q1869.6,280.9 1881.0,310.7 Q1888.4,278.5 1875.0,264.7 Z" fill="#22a04d"  />
<path d="M1714.7,398 L1720.7,394 L1724.7,402 Q1770.6,414 1816.5,396 L1820.5,388 L1826.5,396 Q1822.5,438 1770.6,438 Q1722.7,434 1714.7,398 Z" fill="#c59c6c"  />
<path d="M1724.7,403 Q1770.6,418 1816.5,399" fill="none" stroke="#6e4a22" stroke-width="5" />
<path d="M1728.7,430 Q1770.6,440 1814.5,424" fill="none" stroke="#ffffff" stroke-width="3" opacity="0.8"/>
<path d="M1672.5,414 L1678.5,410 L1682.5,418 Q1727.75,430 1773,412 L1777,404 L1783,412 Q1779,456 1727.75,456 Q1680.5,452 1672.5,414 Z" fill="#c59c6c"  />
<path d="M1682.5,419 Q1727.75,434 1773,415" fill="none" stroke="#6e4a22" stroke-width="5" />
<path d="M1686.5,448 Q1727.75,458 1771,442" fill="none" stroke="#ffffff" stroke-width="3" opacity="0.8"/>
<path d="M1535,752 C1530,700 1560,640 1600,600 C1630,570 1630,520 1650,480 C1670,450 1700,445 1720,440 L1800,430 L1880,410 L1895,400 L1669,752 Z" fill="#fcf5c9"  />
<path d="M1701,697 C1670,690 1655,665 1655,628 C1656,600 1690,575 1700,556 C1712,530 1712,500 1725,482 C1745,458 1790,450 1830,443 L1873,437 L1868,440 L1704,697 Z" fill="url(#gwater)"  />
<ellipse cx="1660" cy="545" rx="55" ry="22" fill="#9a9a90" opacity="0.35"/>
<path d="M1648,492 L1652,555" fill="none" stroke="#231f20" stroke-width="3" />
<polygon points="1592.0,455.0 1640.0,424.0 1652.0,492.0 1604.0,500.0" fill="#3aaa4a" />
<polygon points="1640.0,424.0 1652.0,492.0 1690.0,474.0" fill="#fff200" />
<polygon points="1640.0,424.0 1690.0,474.0 1710.0,460.0 1690.0,430.0" fill="#f7941d" />
<polygon points="1592.0,455.0 1640.0,424.0 1620.0,470.0" fill="#8dc63f" />
<polygon points="1519.2,568.8 1562.7,557.3 1679.6,575.6 1680.8,584.8 1661.3,596.3 1519.2,577.0" fill="#b58c5b" />
<polygon points="1519.2,577.0 1661.3,596.3 1661.3,600.0 1519.2,581.0" fill="#8c6a3c" />
<polygon points="1530.7,529.8 1549.0,520.6 1574.2,564.2 1553.6,568.8" fill="#c49a68" />
<path d="M1632,595 L1640,612 M1560,575 L1556,590" fill="none" stroke="#8c6a3c" stroke-width="3" />
<circle cx="1531" cy="585" r="7" fill="#b58c5b"/>
<polygon points="1550.0,530.0 1565.0,522.0 1585.0,548.0 1610.0,555.0 1650.0,560.0 1666.0,566.0 1660.0,578.0 1610.0,572.0 1585.0,570.0 1560.0,560.0" fill="#f3c3a1" />
<polygon points="1585.7,556.0 1606.3,552.7 1608.0,566.0 1588.0,568.8" fill="#e5364a" />
<circle cx="1558" cy="529" r="8" fill="#f0b0a0"/>
<ellipse cx="1603" cy="606.5" rx="14" ry="7" fill="#1a9ed9"/>
<ellipse cx="1603" cy="604" rx="14" ry="7" fill="#9ad6f3"/>
<polygon points="1313.0,622.0 1345.0,602.0 1420.0,620.0 1450.0,630.0 1418.0,660.0" fill="#ffffff" />
<polygon points="1310.6,623.8 1418.4,660.4 1418.4,668.0 1310.6,632.0" fill="#c8a06e" />
<polygon points="1310.6,600.8 1322.0,597.0 1322.0,630.0 1310.6,634.0" fill="#c8a06e" />
<polygon points="1418.4,643.0 1460.0,624.0 1464.2,627.0 1464.2,645.0 1422.0,668.0 1418.4,668.0" fill="#c8a06e" />
<circle cx="1442.4" cy="642.1" r="8" fill="#ffffff"/>
<text x="1442.4" y="647" font-family="Liberation Sans" font-size="15" font-weight="bold" fill="#e31e24" text-anchor="middle" style="" >+</text>
<rect x="1324" y="632" width="9" height="49" fill="#c8a06e" />
<rect x="1361" y="645" width="8" height="24" fill="#c8a06e" />
<rect x="1395.4" y="660" width="9" height="44" fill="#c8a06e" />
<rect x="1437" y="656" width="10" height="27" fill="#c8a06e" />
<circle cx="1344" cy="600" r="11" fill="#8b6a3e"/>
<circle cx="1347" cy="603" r="9" fill="#f7c9a3"/>
<path d="M1382.8,564 L1382.8,665 M1372,572 Q1382,566 1394,572" fill="none" stroke="#231f20" stroke-width="2" />
<rect x="1367" y="575" width="7" height="12" fill="#f2f2f2" />
<polygon points="1376.0,623.0 1405.0,616.0 1409.0,633.0 1380.0,639.0" fill="#eeeeee" stroke="#b0b0b0" stroke-width="1"/>
<polygon points="1462.0,578.0 1496.0,578.0 1501.0,674.0 1458.0,674.0" fill="#f4f4f4" />
<polygon points="1472.0,672.0 1497.0,672.0 1497.0,692.0 1472.0,692.0" fill="#1b4f8a" />
<rect x="1461" y="690" width="22" height="6" fill="#231f20" />
<rect x="1480" y="688" width="19" height="6" fill="#231f20" />
<circle cx="1485" cy="566" r="11" fill="#f7c9a3"/>
<path d="M1476,562 Q1485,551 1496,562 L1496,570 Q1490,560 1484,560 Z" fill="#231f20"  />
<polygon points="1439.0,585.0 1458.0,576.0 1465.0,594.0 1446.0,601.0" fill="#dbeaf5" stroke="#1f4e8c" stroke-width="1.5"/>
<polygon points="1408.0,690.0 1440.0,690.0 1440.0,715.0 1408.0,715.0" fill="#a58458" />
<ellipse cx="1510" cy="711.5" rx="14" ry="7" fill="#1a9ed9"/>
<ellipse cx="1510" cy="709" rx="14" ry="7" fill="#9ad6f3"/>
<polygon points="1148.0,250.6 1227.0,215.2 1258.5,215.2 1336.5,250.6" fill="#d3d4d6" />
<polygon points="1148.0,250.6 1176.5,250.6 1176.5,397.5 1148.0,397.5" fill="#3d7f87" />
<polygon points="1176.5,250.6 1237.2,223.3 1237.2,370.0 1176.5,396.5" fill="#a3a699" />
<polygon points="1237.2,223.3 1248.4,223.3 1248.4,370.0 1237.2,370.0" fill="#3d7f87" />
<polygon points="1248.4,223.3 1309.0,250.6 1309.0,396.5 1248.4,370.0" fill="#a3a699" />
<polygon points="1309.0,250.6 1336.5,250.6 1336.5,397.5 1309.0,397.5" fill="#3d7f87" />
<polygon points="1181.5,268.0 1189.0,265.6 1189.0,269.0 1181.5,271.4" fill="#f4f4f4" />
<polygon points="1253.4,245.0 1260.9,247.4 1260.9,250.8 1253.4,248.4" fill="#f4f4f4" />
<polygon points="1192.0,264.6 1199.5,262.2 1199.5,265.6 1192.0,268.0" fill="#f4f4f4" />
<polygon points="1263.9,248.4 1271.4,250.8 1271.4,254.2 1263.9,251.8" fill="#f4f4f4" />
<polygon points="1202.5,261.3 1210.0,258.9 1210.0,262.3 1202.5,264.7" fill="#f4f4f4" />
<polygon points="1274.4,251.7 1281.9,254.1 1281.9,257.5 1274.4,255.1" fill="#f4f4f4" />
<polygon points="1213.0,257.9 1220.5,255.5 1220.5,258.9 1213.0,261.3" fill="#f4f4f4" />
<polygon points="1284.9,255.1 1292.4,257.5 1292.4,260.9 1284.9,258.5" fill="#f4f4f4" />
<polygon points="1223.5,254.6 1231.0,252.2 1231.0,255.6 1223.5,258.0" fill="#f4f4f4" />
<polygon points="1295.4,258.4 1302.9,260.8 1302.9,264.2 1295.4,261.8" fill="#f4f4f4" />
<polygon points="1181.5,273.9 1189.0,271.5 1189.0,274.9 1181.5,277.3" fill="#f4f4f4" />
<polygon points="1253.4,250.9 1260.9,253.3 1260.9,256.7 1253.4,254.3" fill="#f4f4f4" />
<polygon points="1192.0,270.5 1199.5,268.1 1199.5,271.5 1192.0,273.9" fill="#f4f4f4" />
<polygon points="1263.9,254.3 1271.4,256.7 1271.4,260.1 1263.9,257.7" fill="#f4f4f4" />
<polygon points="1202.5,267.2 1210.0,264.8 1210.0,268.2 1202.5,270.6" fill="#f4f4f4" />
<polygon points="1274.4,257.6 1281.9,260.0 1281.9,263.4 1274.4,261.0" fill="#f4f4f4" />
<polygon points="1213.0,263.8 1220.5,261.4 1220.5,264.8 1213.0,267.2" fill="#f4f4f4" />
<polygon points="1284.9,261.0 1292.4,263.4 1292.4,266.8 1284.9,264.4" fill="#f4f4f4" />
<polygon points="1223.5,260.5 1231.0,258.1 1231.0,261.5 1223.5,263.9" fill="#f4f4f4" />
<polygon points="1295.4,264.3 1302.9,266.7 1302.9,270.1 1295.4,267.7" fill="#f4f4f4" />
<polygon points="1181.5,279.8 1189.0,277.4 1189.0,280.8 1181.5,283.2" fill="#f4f4f4" />
<polygon points="1253.4,256.8 1260.9,259.2 1260.9,262.6 1253.4,260.2" fill="#f4f4f4" />
<polygon points="1192.0,276.4 1199.5,274.0 1199.5,277.4 1192.0,279.8" fill="#f4f4f4" />
<polygon points="1263.9,260.2 1271.4,262.6 1271.4,266.0 1263.9,263.6" fill="#f4f4f4" />
<polygon points="1202.5,273.1 1210.0,270.7 1210.0,274.1 1202.5,276.5" fill="#f4f4f4" />
<polygon points="1274.4,263.5 1281.9,265.9 1281.9,269.3 1274.4,266.9" fill="#f4f4f4" />
<polygon points="1213.0,269.7 1220.5,267.3 1220.5,270.7 1213.0,273.1" fill="#f4f4f4" />
<polygon points="1284.9,266.9 1292.4,269.3 1292.4,272.7 1284.9,270.3" fill="#f4f4f4" />
<polygon points="1223.5,266.4 1231.0,264.0 1231.0,267.4 1223.5,269.8" fill="#f4f4f4" />
<polygon points="1295.4,270.2 1302.9,272.6 1302.9,276.0 1295.4,273.6" fill="#f4f4f4" />
<polygon points="1181.5,285.7 1189.0,283.3 1189.0,286.7 1181.5,289.1" fill="#f4f4f4" />
<polygon points="1253.4,262.7 1260.9,265.1 1260.9,268.5 1253.4,266.1" fill="#f4f4f4" />
<polygon points="1192.0,282.3 1199.5,279.9 1199.5,283.3 1192.0,285.7" fill="#f4f4f4" />
<polygon points="1263.9,266.1 1271.4,268.5 1271.4,271.9 1263.9,269.5" fill="#f4f4f4" />
<polygon points="1202.5,279.0 1210.0,276.6 1210.0,280.0 1202.5,282.4" fill="#f4f4f4" />
<polygon points="1274.4,269.4 1281.9,271.8 1281.9,275.2 1274.4,272.8" fill="#f4f4f4" />
<polygon points="1213.0,275.6 1220.5,273.2 1220.5,276.6 1213.0,279.0" fill="#f4f4f4" />
<polygon points="1284.9,272.8 1292.4,275.2 1292.4,278.6 1284.9,276.2" fill="#f4f4f4" />
<polygon points="1223.5,272.3 1231.0,269.9 1231.0,273.3 1223.5,275.7" fill="#f4f4f4" />
<polygon points="1295.4,276.1 1302.9,278.5 1302.9,281.9 1295.4,279.5" fill="#f4f4f4" />
<polygon points="1181.5,291.6 1189.0,289.2 1189.0,292.6 1181.5,295.0" fill="#f4f4f4" />
<polygon points="1253.4,268.6 1260.9,271.0 1260.9,274.4 1253.4,272.0" fill="#f4f4f4" />
<polygon points="1192.0,288.2 1199.5,285.8 1199.5,289.2 1192.0,291.6" fill="#f4f4f4" />
<polygon points="1263.9,272.0 1271.4,274.4 1271.4,277.8 1263.9,275.4" fill="#f4f4f4" />
<polygon points="1202.5,284.9 1210.0,282.5 1210.0,285.9 1202.5,288.3" fill="#f4f4f4" />
<polygon points="1274.4,275.3 1281.9,277.7 1281.9,281.1 1274.4,278.7" fill="#f4f4f4" />
<polygon points="1213.0,281.5 1220.5,279.1 1220.5,282.5 1213.0,284.9" fill="#f4f4f4" />
<polygon points="1284.9,278.7 1292.4,281.1 1292.4,284.5 1284.9,282.1" fill="#f4f4f4" />
<polygon points="1223.5,278.2 1231.0,275.8 1231.0,279.2 1223.5,281.6" fill="#f4f4f4" />
<polygon points="1295.4,282.0 1302.9,284.4 1302.9,287.8 1295.4,285.4" fill="#f4f4f4" />
<polygon points="1181.5,297.5 1189.0,295.1 1189.0,298.5 1181.5,300.9" fill="#f4f4f4" />
<polygon points="1253.4,274.5 1260.9,276.9 1260.9,280.3 1253.4,277.9" fill="#f4f4f4" />
<polygon points="1192.0,294.1 1199.5,291.7 1199.5,295.1 1192.0,297.5" fill="#f4f4f4" />
<polygon points="1263.9,277.9 1271.4,280.3 1271.4,283.7 1263.9,281.3" fill="#f4f4f4" />
<polygon points="1202.5,290.8 1210.0,288.4 1210.0,291.8 1202.5,294.2" fill="#f4f4f4" />
<polygon points="1274.4,281.2 1281.9,283.6 1281.9,287.0 1274.4,284.6" fill="#f4f4f4" />
<polygon points="1213.0,287.4 1220.5,285.0 1220.5,288.4 1213.0,290.8" fill="#f4f4f4" />
<polygon points="1284.9,284.6 1292.4,287.0 1292.4,290.4 1284.9,288.0" fill="#f4f4f4" />
<polygon points="1223.5,284.1 1231.0,281.7 1231.0,285.1 1223.5,287.5" fill="#f4f4f4" />
<polygon points="1295.4,287.9 1302.9,290.3 1302.9,293.7 1295.4,291.3" fill="#f4f4f4" />
<polygon points="1181.5,303.4 1189.0,301.0 1189.0,304.4 1181.5,306.8" fill="#f4f4f4" />
<polygon points="1253.4,280.4 1260.9,282.8 1260.9,286.2 1253.4,283.8" fill="#f4f4f4" />
<polygon points="1192.0,300.0 1199.5,297.6 1199.5,301.0 1192.0,303.4" fill="#f4f4f4" />
<polygon points="1263.9,283.8 1271.4,286.2 1271.4,289.6 1263.9,287.2" fill="#f4f4f4" />
<polygon points="1202.5,296.7 1210.0,294.3 1210.0,297.7 1202.5,300.1" fill="#f4f4f4" />
<polygon points="1274.4,287.1 1281.9,289.5 1281.9,292.9 1274.4,290.5" fill="#f4f4f4" />
<polygon points="1213.0,293.3 1220.5,290.9 1220.5,294.3 1213.0,296.7" fill="#f4f4f4" />
<polygon points="1284.9,290.5 1292.4,292.9 1292.4,296.3 1284.9,293.9" fill="#f4f4f4" />
<polygon points="1223.5,290.0 1231.0,287.6 1231.0,291.0 1223.5,293.4" fill="#f4f4f4" />
<polygon points="1295.4,293.8 1302.9,296.2 1302.9,299.6 1295.4,297.2" fill="#f4f4f4" />
<polygon points="1181.5,309.3 1189.0,306.9 1189.0,310.3 1181.5,312.7" fill="#f4f4f4" />
<polygon points="1253.4,286.3 1260.9,288.7 1260.9,292.1 1253.4,289.7" fill="#f4f4f4" />
<polygon points="1192.0,305.9 1199.5,303.5 1199.5,306.9 1192.0,309.3" fill="#f4f4f4" />
<polygon points="1263.9,289.7 1271.4,292.1 1271.4,295.5 1263.9,293.1" fill="#f4f4f4" />
<polygon points="1202.5,302.6 1210.0,300.2 1210.0,303.6 1202.5,306.0" fill="#f4f4f4" />
<polygon points="1274.4,293.0 1281.9,295.4 1281.9,298.8 1274.4,296.4" fill="#f4f4f4" />
<polygon points="1213.0,299.2 1220.5,296.8 1220.5,300.2 1213.0,302.6" fill="#f4f4f4" />
<polygon points="1284.9,296.4 1292.4,298.8 1292.4,302.2 1284.9,299.8" fill="#f4f4f4" />
<polygon points="1223.5,295.9 1231.0,293.5 1231.0,296.9 1223.5,299.3" fill="#f4f4f4" />
<polygon points="1295.4,299.7 1302.9,302.1 1302.9,305.5 1295.4,303.1" fill="#f4f4f4" />
<polygon points="1181.5,315.2 1189.0,312.8 1189.0,316.2 1181.5,318.6" fill="#f4f4f4" />
<polygon points="1253.4,292.2 1260.9,294.6 1260.9,298.0 1253.4,295.6" fill="#f4f4f4" />
<polygon points="1192.0,311.8 1199.5,309.4 1199.5,312.8 1192.0,315.2" fill="#f4f4f4" />
<polygon points="1263.9,295.6 1271.4,298.0 1271.4,301.4 1263.9,299.0" fill="#f4f4f4" />
<polygon points="1202.5,308.5 1210.0,306.1 1210.0,309.5 1202.5,311.9" fill="#f4f4f4" />
<polygon points="1274.4,298.9 1281.9,301.3 1281.9,304.7 1274.4,302.3" fill="#f4f4f4" />
<polygon points="1213.0,305.1 1220.5,302.7 1220.5,306.1 1213.0,308.5" fill="#f4f4f4" />
<polygon points="1284.9,302.3 1292.4,304.7 1292.4,308.1 1284.9,305.7" fill="#f4f4f4" />
<polygon points="1223.5,301.8 1231.0,299.4 1231.0,302.8 1223.5,305.2" fill="#f4f4f4" />
<polygon points="1295.4,305.6 1302.9,308.0 1302.9,311.4 1295.4,309.0" fill="#f4f4f4" />
<polygon points="1181.5,321.1 1189.0,318.7 1189.0,322.1 1181.5,324.5" fill="#f4f4f4" />
<polygon points="1253.4,298.1 1260.9,300.5 1260.9,303.9 1253.4,301.5" fill="#f4f4f4" />
<polygon points="1192.0,317.7 1199.5,315.3 1199.5,318.7 1192.0,321.1" fill="#f4f4f4" />
<polygon points="1263.9,301.5 1271.4,303.9 1271.4,307.3 1263.9,304.9" fill="#f4f4f4" />
<polygon points="1202.5,314.4 1210.0,312.0 1210.0,315.4 1202.5,317.8" fill="#f4f4f4" />
<polygon points="1274.4,304.8 1281.9,307.2 1281.9,310.6 1274.4,308.2" fill="#f4f4f4" />
<polygon points="1213.0,311.0 1220.5,308.6 1220.5,312.0 1213.0,314.4" fill="#f4f4f4" />
<polygon points="1284.9,308.2 1292.4,310.6 1292.4,314.0 1284.9,311.6" fill="#f4f4f4" />
<polygon points="1223.5,307.7 1231.0,305.3 1231.0,308.7 1223.5,311.1" fill="#f4f4f4" />
<polygon points="1295.4,311.5 1302.9,313.9 1302.9,317.3 1295.4,314.9" fill="#f4f4f4" />
<polygon points="1181.5,327.0 1189.0,324.6 1189.0,328.0 1181.5,330.4" fill="#f4f4f4" />
<polygon points="1253.4,304.0 1260.9,306.4 1260.9,309.8 1253.4,307.4" fill="#f4f4f4" />
<polygon points="1192.0,323.6 1199.5,321.2 1199.5,324.6 1192.0,327.0" fill="#f4f4f4" />
<polygon points="1263.9,307.4 1271.4,309.8 1271.4,313.2 1263.9,310.8" fill="#f4f4f4" />
<polygon points="1202.5,320.3 1210.0,317.9 1210.0,321.3 1202.5,323.7" fill="#f4f4f4" />
<polygon points="1274.4,310.7 1281.9,313.1 1281.9,316.5 1274.4,314.1" fill="#f4f4f4" />
<polygon points="1213.0,316.9 1220.5,314.5 1220.5,317.9 1213.0,320.3" fill="#f4f4f4" />
<polygon points="1284.9,314.1 1292.4,316.5 1292.4,319.9 1284.9,317.5" fill="#f4f4f4" />
<polygon points="1223.5,313.6 1231.0,311.2 1231.0,314.6 1223.5,317.0" fill="#f4f4f4" />
<polygon points="1295.4,317.4 1302.9,319.8 1302.9,323.2 1295.4,320.8" fill="#f4f4f4" />
<polygon points="1181.5,332.9 1189.0,330.5 1189.0,333.9 1181.5,336.3" fill="#f4f4f4" />
<polygon points="1253.4,309.9 1260.9,312.3 1260.9,315.7 1253.4,313.3" fill="#f4f4f4" />
<polygon points="1192.0,329.5 1199.5,327.1 1199.5,330.5 1192.0,332.9" fill="#f4f4f4" />
<polygon points="1263.9,313.3 1271.4,315.7 1271.4,319.1 1263.9,316.7" fill="#f4f4f4" />
<polygon points="1202.5,326.2 1210.0,323.8 1210.0,327.2 1202.5,329.6" fill="#f4f4f4" />
<polygon points="1274.4,316.6 1281.9,319.0 1281.9,322.4 1274.4,320.0" fill="#f4f4f4" />
<polygon points="1213.0,322.8 1220.5,320.4 1220.5,323.8 1213.0,326.2" fill="#f4f4f4" />
<polygon points="1284.9,320.0 1292.4,322.4 1292.4,325.8 1284.9,323.4" fill="#f4f4f4" />
<polygon points="1223.5,319.5 1231.0,317.1 1231.0,320.5 1223.5,322.9" fill="#f4f4f4" />
<polygon points="1295.4,323.3 1302.9,325.7 1302.9,329.1 1295.4,326.7" fill="#f4f4f4" />
<polygon points="1181.5,338.8 1189.0,336.4 1189.0,339.8 1181.5,342.2" fill="#f4f4f4" />
<polygon points="1253.4,315.8 1260.9,318.2 1260.9,321.6 1253.4,319.2" fill="#f4f4f4" />
<polygon points="1192.0,335.4 1199.5,333.0 1199.5,336.4 1192.0,338.8" fill="#f4f4f4" />
<polygon points="1263.9,319.2 1271.4,321.6 1271.4,325.0 1263.9,322.6" fill="#f4f4f4" />
<polygon points="1202.5,332.1 1210.0,329.7 1210.0,333.1 1202.5,335.5" fill="#f4f4f4" />
<polygon points="1274.4,322.5 1281.9,324.9 1281.9,328.3 1274.4,325.9" fill="#f4f4f4" />
<polygon points="1213.0,328.7 1220.5,326.3 1220.5,329.7 1213.0,332.1" fill="#f4f4f4" />
<polygon points="1284.9,325.9 1292.4,328.3 1292.4,331.7 1284.9,329.3" fill="#f4f4f4" />
<polygon points="1223.5,325.4 1231.0,323.0 1231.0,326.4 1223.5,328.8" fill="#f4f4f4" />
<polygon points="1295.4,329.2 1302.9,331.6 1302.9,335.0 1295.4,332.6" fill="#f4f4f4" />
<polygon points="1181.5,344.7 1189.0,342.3 1189.0,345.7 1181.5,348.1" fill="#f4f4f4" />
<polygon points="1253.4,321.7 1260.9,324.1 1260.9,327.5 1253.4,325.1" fill="#f4f4f4" />
<polygon points="1192.0,341.3 1199.5,338.9 1199.5,342.3 1192.0,344.7" fill="#f4f4f4" />
<polygon points="1263.9,325.1 1271.4,327.5 1271.4,330.9 1263.9,328.5" fill="#f4f4f4" />
<polygon points="1202.5,338.0 1210.0,335.6 1210.0,339.0 1202.5,341.4" fill="#f4f4f4" />
<polygon points="1274.4,328.4 1281.9,330.8 1281.9,334.2 1274.4,331.8" fill="#f4f4f4" />
<polygon points="1213.0,334.6 1220.5,332.2 1220.5,335.6 1213.0,338.0" fill="#f4f4f4" />
<polygon points="1284.9,331.8 1292.4,334.2 1292.4,337.6 1284.9,335.2" fill="#f4f4f4" />
<polygon points="1223.5,331.3 1231.0,328.9 1231.0,332.3 1223.5,334.7" fill="#f4f4f4" />
<polygon points="1295.4,335.1 1302.9,337.5 1302.9,340.9 1295.4,338.5" fill="#f4f4f4" />
<polygon points="1181.5,350.6 1189.0,348.2 1189.0,351.6 1181.5,354.0" fill="#f4f4f4" />
<polygon points="1253.4,327.6 1260.9,330.0 1260.9,333.4 1253.4,331.0" fill="#f4f4f4" />
<polygon points="1192.0,347.2 1199.5,344.8 1199.5,348.2 1192.0,350.6" fill="#f4f4f4" />
<polygon points="1263.9,331.0 1271.4,333.4 1271.4,336.8 1263.9,334.4" fill="#f4f4f4" />
<polygon points="1202.5,343.9 1210.0,341.5 1210.0,344.9 1202.5,347.3" fill="#f4f4f4" />
<polygon points="1274.4,334.3 1281.9,336.7 1281.9,340.1 1274.4,337.7" fill="#f4f4f4" />
<polygon points="1213.0,340.5 1220.5,338.1 1220.5,341.5 1213.0,343.9" fill="#f4f4f4" />
<polygon points="1284.9,337.7 1292.4,340.1 1292.4,343.5 1284.9,341.1" fill="#f4f4f4" />
<polygon points="1223.5,337.2 1231.0,334.8 1231.0,338.2 1223.5,340.6" fill="#f4f4f4" />
<polygon points="1295.4,341.0 1302.9,343.4 1302.9,346.8 1295.4,344.4" fill="#f4f4f4" />
<polygon points="1181.5,356.5 1189.0,354.1 1189.0,357.5 1181.5,359.9" fill="#f4f4f4" />
<polygon points="1253.4,333.5 1260.9,335.9 1260.9,339.3 1253.4,336.9" fill="#f4f4f4" />
<polygon points="1192.0,353.1 1199.5,350.7 1199.5,354.1 1192.0,356.5" fill="#f4f4f4" />
<polygon points="1263.9,336.9 1271.4,339.3 1271.4,342.7 1263.9,340.3" fill="#f4f4f4" />
<polygon points="1202.5,349.8 1210.0,347.4 1210.0,350.8 1202.5,353.2" fill="#f4f4f4" />
<polygon points="1274.4,340.2 1281.9,342.6 1281.9,346.0 1274.4,343.6" fill="#f4f4f4" />
<polygon points="1213.0,346.4 1220.5,344.0 1220.5,347.4 1213.0,349.8" fill="#f4f4f4" />
<polygon points="1284.9,343.6 1292.4,346.0 1292.4,349.4 1284.9,347.0" fill="#f4f4f4" />
<polygon points="1223.5,343.1 1231.0,340.7 1231.0,344.1 1223.5,346.5" fill="#f4f4f4" />
<polygon points="1295.4,346.9 1302.9,349.3 1302.9,352.7 1295.4,350.3" fill="#f4f4f4" />
<polygon points="1181.5,362.4 1189.0,360.0 1189.0,363.4 1181.5,365.8" fill="#f4f4f4" />
<polygon points="1253.4,339.4 1260.9,341.8 1260.9,345.2 1253.4,342.8" fill="#f4f4f4" />
<polygon points="1192.0,359.0 1199.5,356.6 1199.5,360.0 1192.0,362.4" fill="#f4f4f4" />
<polygon points="1263.9,342.8 1271.4,345.2 1271.4,348.6 1263.9,346.2" fill="#f4f4f4" />
<polygon points="1202.5,355.7 1210.0,353.3 1210.0,356.7 1202.5,359.1" fill="#f4f4f4" />
<polygon points="1274.4,346.1 1281.9,348.5 1281.9,351.9 1274.4,349.5" fill="#f4f4f4" />
<polygon points="1213.0,352.3 1220.5,349.9 1220.5,353.3 1213.0,355.7" fill="#f4f4f4" />
<polygon points="1284.9,349.5 1292.4,351.9 1292.4,355.3 1284.9,352.9" fill="#f4f4f4" />
<polygon points="1223.5,349.0 1231.0,346.6 1231.0,350.0 1223.5,352.4" fill="#f4f4f4" />
<polygon points="1295.4,352.8 1302.9,355.2 1302.9,358.6 1295.4,356.2" fill="#f4f4f4" />
<polygon points="1181.5,368.3 1189.0,365.9 1189.0,369.3 1181.5,371.7" fill="#f4f4f4" />
<polygon points="1253.4,345.3 1260.9,347.7 1260.9,351.1 1253.4,348.7" fill="#f4f4f4" />
<polygon points="1192.0,364.9 1199.5,362.5 1199.5,365.9 1192.0,368.3" fill="#f4f4f4" />
<polygon points="1263.9,348.7 1271.4,351.1 1271.4,354.5 1263.9,352.1" fill="#f4f4f4" />
<polygon points="1202.5,361.6 1210.0,359.2 1210.0,362.6 1202.5,365.0" fill="#f4f4f4" />
<polygon points="1274.4,352.0 1281.9,354.4 1281.9,357.8 1274.4,355.4" fill="#f4f4f4" />
<polygon points="1213.0,358.2 1220.5,355.8 1220.5,359.2 1213.0,361.6" fill="#f4f4f4" />
<polygon points="1284.9,355.4 1292.4,357.8 1292.4,361.2 1284.9,358.8" fill="#f4f4f4" />
<polygon points="1223.5,354.9 1231.0,352.5 1231.0,355.9 1223.5,358.3" fill="#f4f4f4" />
<polygon points="1295.4,358.7 1302.9,361.1 1302.9,364.5 1295.4,362.1" fill="#f4f4f4" />
<polygon points="1181.5,374.2 1189.0,371.8 1189.0,375.2 1181.5,377.6" fill="#f4f4f4" />
<polygon points="1253.4,351.2 1260.9,353.6 1260.9,357.0 1253.4,354.6" fill="#f4f4f4" />
<polygon points="1192.0,370.8 1199.5,368.4 1199.5,371.8 1192.0,374.2" fill="#f4f4f4" />
<polygon points="1263.9,354.6 1271.4,357.0 1271.4,360.4 1263.9,358.0" fill="#f4f4f4" />
<polygon points="1202.5,367.5 1210.0,365.1 1210.0,368.5 1202.5,370.9" fill="#f4f4f4" />
<polygon points="1274.4,357.9 1281.9,360.3 1281.9,363.7 1274.4,361.3" fill="#f4f4f4" />
<polygon points="1213.0,364.1 1220.5,361.7 1220.5,365.1 1213.0,367.5" fill="#f4f4f4" />
<polygon points="1284.9,361.3 1292.4,363.7 1292.4,367.1 1284.9,364.7" fill="#f4f4f4" />
<polygon points="1223.5,360.8 1231.0,358.4 1231.0,361.8 1223.5,364.2" fill="#f4f4f4" />
<polygon points="1295.4,364.6 1302.9,367.0 1302.9,370.4 1295.4,368.0" fill="#f4f4f4" />
<polygon points="1181.5,380.1 1189.0,377.7 1189.0,381.1 1181.5,383.5" fill="#f4f4f4" />
<polygon points="1253.4,357.1 1260.9,359.5 1260.9,362.9 1253.4,360.5" fill="#f4f4f4" />
<polygon points="1192.0,376.7 1199.5,374.3 1199.5,377.7 1192.0,380.1" fill="#f4f4f4" />
<polygon points="1263.9,360.5 1271.4,362.9 1271.4,366.3 1263.9,363.9" fill="#f4f4f4" />
<polygon points="1202.5,373.4 1210.0,371.0 1210.0,374.4 1202.5,376.8" fill="#f4f4f4" />
<polygon points="1274.4,363.8 1281.9,366.2 1281.9,369.6 1274.4,367.2" fill="#f4f4f4" />
<polygon points="1213.0,370.0 1220.5,367.6 1220.5,371.0 1213.0,373.4" fill="#f4f4f4" />
<polygon points="1284.9,367.2 1292.4,369.6 1292.4,373.0 1284.9,370.6" fill="#f4f4f4" />
<polygon points="1223.5,366.7 1231.0,364.3 1231.0,367.7 1223.5,370.1" fill="#f4f4f4" />
<polygon points="1295.4,370.5 1302.9,372.9 1302.9,376.3 1295.4,373.9" fill="#f4f4f4" />
<polygon points="1181.5,386.0 1189.0,383.6 1189.0,387.0 1181.5,389.4" fill="#f4f4f4" />
<polygon points="1253.4,363.0 1260.9,365.4 1260.9,368.8 1253.4,366.4" fill="#f4f4f4" />
<polygon points="1263.9,366.4 1271.4,368.8 1271.4,372.2 1263.9,369.8" fill="#f4f4f4" />
<polygon points="1274.4,369.7 1281.9,372.1 1281.9,375.5 1274.4,373.1" fill="#f4f4f4" />
<polygon points="1284.9,373.1 1292.4,375.5 1292.4,378.9 1284.9,376.5" fill="#f4f4f4" />
<polygon points="1295.4,376.4 1302.9,378.8 1302.9,382.2 1295.4,379.8" fill="#f4f4f4" />
<polygon points="1284.9,379.0 1292.4,381.4 1292.4,384.8 1284.9,382.4" fill="#f4f4f4" />
<polygon points="1295.4,382.3 1302.9,384.7 1302.9,388.1 1295.4,385.7" fill="#f4f4f4" />
<polygon points="1044.3,425.0 1082.4,409.0 1142.7,415.0 1098.2,443.0" fill="#8db5c0" stroke="#8db5c0" stroke-width="12" stroke-linejoin="round"/>
<polygon points="1044.3,420.5 1082.4,404.5 1142.7,410.5 1098.2,438.5" fill="#ffffff" stroke="#ffffff" stroke-width="12" stroke-linejoin="round"/>
<polygon points="1044.6,413.5 1081.8,397.5 1139.4,403.5 1095.4,431.5" fill="#8db5c0" stroke="#8db5c0" stroke-width="12" stroke-linejoin="round"/>
<polygon points="1044.6,409.0 1081.8,393.0 1139.4,399.0 1095.4,427.0" fill="#ffffff" stroke="#ffffff" stroke-width="12" stroke-linejoin="round"/>
<polygon points="1044.9,402.0 1081.2,386.0 1136.1,392.0 1092.6,420.0" fill="#8db5c0" stroke="#8db5c0" stroke-width="12" stroke-linejoin="round"/>
<polygon points="1044.9,397.5 1081.2,381.5 1136.1,387.5 1092.6,415.5" fill="#ffffff" stroke="#ffffff" stroke-width="12" stroke-linejoin="round"/>
<polygon points="1045.2,390.5 1080.6,374.5 1132.8,380.5 1089.8,408.5" fill="#8db5c0" stroke="#8db5c0" stroke-width="12" stroke-linejoin="round"/>
<polygon points="1045.2,386.0 1080.6,370.0 1132.8,376.0 1089.8,404.0" fill="#ffffff" stroke="#ffffff" stroke-width="12" stroke-linejoin="round"/>
<polygon points="1045.5,379.0 1080.0,363.0 1129.5,369.0 1087.0,397.0" fill="#8db5c0" stroke="#8db5c0" stroke-width="12" stroke-linejoin="round"/>
<polygon points="1045.5,374.5 1080.0,358.5 1129.5,364.5 1087.0,392.5" fill="#ffffff" stroke="#ffffff" stroke-width="12" stroke-linejoin="round"/>
<polygon points="1045.8,367.5 1079.4,351.5 1126.2,357.5 1084.2,385.5" fill="#8db5c0" stroke="#8db5c0" stroke-width="12" stroke-linejoin="round"/>
<polygon points="1045.8,363.0 1079.4,347.0 1126.2,353.0 1084.2,381.0" fill="#ffffff" stroke="#ffffff" stroke-width="12" stroke-linejoin="round"/>
<polygon points="1046.1,356.0 1078.8,340.0 1122.9,346.0 1081.4,374.0" fill="#8db5c0" stroke="#8db5c0" stroke-width="12" stroke-linejoin="round"/>
<polygon points="1046.1,351.5 1078.8,335.5 1122.9,341.5 1081.4,369.5" fill="#ffffff" stroke="#ffffff" stroke-width="12" stroke-linejoin="round"/>
<polygon points="1046.4,344.5 1078.2,328.5 1119.6,334.5 1078.6,362.5" fill="#8db5c0" stroke="#8db5c0" stroke-width="12" stroke-linejoin="round"/>
<polygon points="1046.4,340.0 1078.2,324.0 1119.6,330.0 1078.6,358.0" fill="#ffffff" stroke="#ffffff" stroke-width="12" stroke-linejoin="round"/>
<polygon points="1046.7,333.0 1077.6,317.0 1116.3,323.0 1075.8,351.0" fill="#8db5c0" stroke="#8db5c0" stroke-width="12" stroke-linejoin="round"/>
<polygon points="1046.7,328.5 1077.6,312.5 1116.3,318.5 1075.8,346.5" fill="#ffffff" stroke="#ffffff" stroke-width="12" stroke-linejoin="round"/>
<polygon points="1047.0,321.5 1077.0,305.5 1113.0,311.5 1073.0,339.5" fill="#8db5c0" stroke="#8db5c0" stroke-width="12" stroke-linejoin="round"/>
<polygon points="1047.0,317.0 1077.0,301.0 1113.0,307.0 1073.0,335.0" fill="#ecedeb" stroke="#ecedeb" stroke-width="12" stroke-linejoin="round"/>
<ellipse cx="979.6" cy="366.4" rx="71.0" ry="25" fill="#8db5c0" transform="rotate(-31 979.6 361.4)"/>
<ellipse cx="979.6" cy="361.4" rx="71.0" ry="25" fill="#ffffff" transform="rotate(-31 979.6 361.4)"/>
<ellipse cx="980.8" cy="354.2" rx="70.0" ry="25" fill="#8db5c0" transform="rotate(-31 980.8 349.2)"/>
<ellipse cx="980.8" cy="349.2" rx="70.0" ry="25" fill="#ffffff" transform="rotate(-31 980.8 349.2)"/>
<ellipse cx="982.0" cy="342.0" rx="69.0" ry="25" fill="#8db5c0" transform="rotate(-31 982.0 337.0)"/>
<ellipse cx="982.0" cy="337.0" rx="69.0" ry="25" fill="#ffffff" transform="rotate(-31 982.0 337.0)"/>
<ellipse cx="983.2" cy="329.8" rx="68.0" ry="25" fill="#8db5c0" transform="rotate(-31 983.2 324.8)"/>
<ellipse cx="983.2" cy="324.8" rx="68.0" ry="25" fill="#ffffff" transform="rotate(-31 983.2 324.8)"/>
<ellipse cx="984.4" cy="317.6" rx="67.0" ry="25" fill="#8db5c0" transform="rotate(-31 984.4 312.6)"/>
<ellipse cx="984.4" cy="312.6" rx="67.0" ry="25" fill="#ffffff" transform="rotate(-31 984.4 312.6)"/>
<ellipse cx="985.6" cy="305.4" rx="66.0" ry="25" fill="#8db5c0" transform="rotate(-31 985.6 300.4)"/>
<ellipse cx="985.6" cy="300.4" rx="66.0" ry="25" fill="#ffffff" transform="rotate(-31 985.6 300.4)"/>
<ellipse cx="986.8" cy="293.2" rx="65.0" ry="25" fill="#8db5c0" transform="rotate(-31 986.8 288.2)"/>
<ellipse cx="986.8" cy="288.2" rx="65.0" ry="25" fill="#ffffff" transform="rotate(-31 986.8 288.2)"/>
<ellipse cx="988.0" cy="281.0" rx="64.0" ry="25" fill="#8db5c0" transform="rotate(-31 988.0 276.0)"/>
<ellipse cx="988.0" cy="276.0" rx="64.0" ry="25" fill="#ffffff" transform="rotate(-31 988.0 276.0)"/>
<ellipse cx="988" cy="276" rx="64" ry="25" fill="#ecedeb" transform="rotate(-31 988 276)"/>
<ellipse cx="999.8" cy="263" rx="21" ry="15" fill="none" stroke="#cdc5b8" stroke-width="4" stroke-dasharray="2,2"/>
<polygon points="992.0,258.0 1003.0,254.0 1010.0,260.0 1000.0,266.0" fill="#f4f4f2" />
<polygon points="1002.0,264.0 1010.0,260.0 1010.0,268.0 1002.0,272.0" fill="#6d6e71" />
<polygon points="1369.0,272.0 1510.7,272.0 1467.0,339.8 1337.5,339.8 1324.3,324.6" fill="#fbf0a4" />
<polygon points="1324.3,324.6 1337.5,339.8 1337.5,425.0 1324.3,410.7" fill="#a39d63" />
<polygon points="1467.0,339.8 1510.7,272.0 1510.7,410.7 1467.0,440.0" fill="#a39d63" />
<polygon points="1337.5,339.8 1467.0,339.8 1467.0,440.0 1337.5,440.0" fill="#cfc78f" />
<rect x="1342.0" y="354" width="5.5" height="11" fill="#ffffff" />
<rect x="1351.6" y="354" width="5.5" height="11" fill="#ffffff" />
<rect x="1361.2" y="354" width="5.5" height="11" fill="#ffffff" />
<rect x="1370.8" y="354" width="5.5" height="11" fill="#ffffff" />
<rect x="1380.4" y="354" width="5.5" height="11" fill="#ffffff" />
<rect x="1390.0" y="354" width="5.5" height="11" fill="#ffffff" />
<rect x="1399.6" y="354" width="5.5" height="11" fill="#ffffff" />
<rect x="1409.2" y="354" width="5.5" height="11" fill="#ffffff" />
<rect x="1418.8" y="354" width="5.5" height="11" fill="#ffffff" />
<rect x="1428.4" y="354" width="5.5" height="11" fill="#ffffff" />
<rect x="1438.0" y="354" width="5.5" height="11" fill="#ffffff" />
<rect x="1447.6" y="354" width="5.5" height="11" fill="#ffffff" />
<rect x="1342.0" y="372.0" width="5.5" height="11" fill="#ffffff" />
<rect x="1351.6" y="372.0" width="5.5" height="11" fill="#ffffff" />
<rect x="1361.2" y="372.0" width="5.5" height="11" fill="#ffffff" />
<rect x="1342.0" y="390.8" width="5.5" height="11" fill="#ffffff" />
<rect x="1351.6" y="390.8" width="5.5" height="11" fill="#ffffff" />
<rect x="1361.2" y="390.8" width="5.5" height="11" fill="#ffffff" />
<rect x="1342.0" y="409.6" width="5.5" height="11" fill="#ffffff" />
<rect x="1351.6" y="409.6" width="5.5" height="11" fill="#ffffff" />
<rect x="1361.2" y="409.6" width="5.5" height="11" fill="#ffffff" />
<polygon points="1371.0,368.0 1466.0,368.0 1466.0,440.0 1371.0,440.0" fill="#ddd5a2" />
<polygon points="1371.0,368.0 1466.0,368.0 1462.0,374.0 1375.0,374.0" fill="#f6eeb0" />
<rect x="1378" y="376" width="14" height="10" fill="#4a9cc6" />
<rect x="1371" y="385" width="95" height="1.5" fill="#ffffff" />
<polygon points="1371.0,386.0 1466.0,386.0 1462.0,392.0 1375.0,392.0" fill="#f6eeb0" />
<rect x="1378" y="394" width="14" height="10" fill="#4a9cc6" />
<rect x="1371" y="403" width="95" height="1.5" fill="#ffffff" />
<polygon points="1371.0,404.0 1466.0,404.0 1462.0,410.0 1375.0,410.0" fill="#f6eeb0" />
<rect x="1378" y="412" width="14" height="10" fill="#4a9cc6" />
<rect x="1371" y="421" width="95" height="1.5" fill="#ffffff" />
<polygon points="1371.0,422.0 1466.0,422.0 1462.0,428.0 1375.0,428.0" fill="#f6eeb0" />
<rect x="1378" y="430" width="14" height="10" fill="#4a9cc6" />
<rect x="1371" y="439" width="95" height="1.5" fill="#ffffff" />
<polygon points="1359.4,459.3 1381.5,411.5 1512.9,411.5 1494.0,459.3" fill="#f9a51b" />
<polygon points="1480.5,438.8 1513.0,425.0 1513.0,520.0 1480.5,532.6" fill="#c5b870" />
<polygon points="1366.2,469.5 1480.5,469.5 1480.5,532.6 1366.2,532.6" fill="#fbb03b" />
<polygon points="1403.0,459.3 1435.0,459.3 1435.0,532.6 1403.0,532.6" fill="#8b5e1a" />
<polygon points="1366.2,459.3 1494.0,459.3 1494.0,469.5 1366.2,469.5" fill="#e49516" />
<rect x="1371.0" y="476" width="4.5" height="7" fill="#ffffff" />
<rect x="1440.0" y="476" width="4.5" height="7" fill="#ffffff" />
<rect x="1378.5" y="476" width="4.5" height="7" fill="#ffffff" />
<rect x="1448.5" y="476" width="4.5" height="7" fill="#ffffff" />
<rect x="1386.0" y="476" width="4.5" height="7" fill="#ffffff" />
<rect x="1457.0" y="476" width="4.5" height="7" fill="#ffffff" />
<rect x="1393.5" y="476" width="4.5" height="7" fill="#ffffff" />
<rect x="1465.5" y="476" width="4.5" height="7" fill="#ffffff" />
<rect x="1371.0" y="490" width="4.5" height="7" fill="#ffffff" />
<rect x="1440.0" y="490" width="4.5" height="7" fill="#ffffff" />
<rect x="1378.5" y="490" width="4.5" height="7" fill="#ffffff" />
<rect x="1448.5" y="490" width="4.5" height="7" fill="#ffffff" />
<rect x="1386.0" y="490" width="4.5" height="7" fill="#ffffff" />
<rect x="1457.0" y="490" width="4.5" height="7" fill="#ffffff" />
<rect x="1393.5" y="490" width="4.5" height="7" fill="#ffffff" />
<rect x="1465.5" y="490" width="4.5" height="7" fill="#ffffff" />
<rect x="1371.0" y="504" width="4.5" height="7" fill="#ffffff" />
<rect x="1440.0" y="504" width="4.5" height="7" fill="#ffffff" />
<rect x="1378.5" y="504" width="4.5" height="7" fill="#ffffff" />
<rect x="1448.5" y="504" width="4.5" height="7" fill="#ffffff" />
<rect x="1386.0" y="504" width="4.5" height="7" fill="#ffffff" />
<rect x="1457.0" y="504" width="4.5" height="7" fill="#ffffff" />
<rect x="1393.5" y="504" width="4.5" height="7" fill="#ffffff" />
<rect x="1465.5" y="504" width="4.5" height="7" fill="#ffffff" />
<rect x="1371.0" y="518" width="4.5" height="7" fill="#ffffff" />
<rect x="1440.0" y="518" width="4.5" height="7" fill="#ffffff" />
<rect x="1378.5" y="518" width="4.5" height="7" fill="#ffffff" />
<rect x="1448.5" y="518" width="4.5" height="7" fill="#ffffff" />
<rect x="1386.0" y="518" width="4.5" height="7" fill="#ffffff" />
<rect x="1457.0" y="518" width="4.5" height="7" fill="#ffffff" />
<rect x="1393.5" y="518" width="4.5" height="7" fill="#ffffff" />
<rect x="1465.5" y="518" width="4.5" height="7" fill="#ffffff" />
<rect x="1414" y="518" width="9" height="14" fill="#ffffff" />
<path d="M990.9,479 L990.9,530 M990.9,528 L972,545 M990.9,528 L1013,540 M990.9,528 L985,548" fill="none" stroke="#231f20" stroke-width="2.5" />
<rect x="897" y="367.2" width="189.4" height="112.6" fill="#8f9092" />
<rect x="903.9" y="372.3" width="175.7" height="100.6" fill="#ffffff" />
<text x="991" y="396" font-family="Liberation Sans" font-size="19" font-weight="normal" fill="#8a8a8a" text-anchor="middle" style="" >LES</text>
<path d="M991,402 L991,410 M951,418 L951,410 L1031,410 L1031,418" fill="none" stroke="#5a1e12" stroke-width="2" />
<text x="950" y="438" font-family="Liberation Sans" font-size="16" font-weight="normal" fill="#231f20" text-anchor="middle" style="" >lagere</text>
<text x="950" y="455" font-family="Liberation Sans" font-size="16" font-weight="normal" fill="#231f20" text-anchor="middle" style="" >school</text>
<text x="1031" y="438" font-family="Liberation Sans" font-size="16" font-weight="normal" fill="#231f20" text-anchor="middle" style="" >middelbare</text>
<text x="1031" y="455" font-family="Liberation Sans" font-size="16" font-weight="normal" fill="#231f20" text-anchor="middle" style="" >school</text>
<path d="M1040,460 L1135,494" fill="none" stroke="#231f20" stroke-width="3" />
<rect x="1095.0" y="426.0" width="26.0" height="32.0" rx="6.0" fill="#3b73b9"/>
<circle cx="1108" cy="419.5" r="8.5" fill="#f7c9a3"/>
<path d="M1099.5,419.5 A8.5,8.5 0 0 1 1116.5,419.5 L1114.8,416.1 L1100.35,418.65 Z" fill="#231f20"/>
<polygon points="1096.0,470.0 1122.0,470.0 1124.0,540.0 1112.0,540.0 1109.0,500.0 1104.0,540.0 1094.0,540.0" fill="#7c5a2c" />
<rect x="1090" y="538" width="16" height="6" fill="#231f20" />
<rect x="1110" y="538" width="16" height="6" fill="#231f20" />
<ellipse cx="1051.5" cy="532.5" rx="15" ry="7" fill="#1a9ed9"/>
<ellipse cx="1051.5" cy="530" rx="15" ry="7" fill="#9ad6f3"/>
<rect x="1245.7" y="415.7" width="28.6" height="35.2" rx="6.6000000000000005" fill="#5aa6d9"/>
<circle cx="1260" cy="408.35" r="9.350000000000001" fill="#7a4a26"/>
<path d="M1250.65,408.35 A9.350000000000001,9.350000000000001 0 0 1 1269.35,408.35 L1267.48,404.61 L1251.585,407.415 Z" fill="#231f20"/>
<polygon points="1199.3,532.5 1298.3,532.5 1314.7,498.5 1217.7,498.5" fill="#000000" opacity="0.1"/>
<polygon points="1294.3,481.5 1314.7,447.5 1314.7,498.5 1294.3,532.5" fill="#7a5327" />
<polygon points="1201.3,485.5 1217.6,458.3 1217.6,492.6 1201.3,532.5" fill="#6e4a22" />
<polygon points="1197.3,481.5 1294.3,481.5 1314.7,447.5 1217.7,447.5" fill="#c29868" />
<polygon points="1197.3,481.5 1294.3,481.5 1294.3,486.5 1197.3,486.5" fill="#a67d4d" />
<polygon points="1197.3,481.5 1202.3,481.5 1202.3,532.5 1197.3,532.5" fill="#a67d4d" />
<polygon points="1289.3,481.5 1294.3,481.5 1294.3,532.5 1289.3,532.5" fill="#a67d4d" />
<rect x="1214" y="447" width="36" height="27" fill="#231f20"/>
<rect x="1229.12" y="474" width="5.76" height="5" fill="#231f20"/>
<polygon points="1186.0,420.0 1230.0,412.0 1232.0,426.0 1188.0,434.0" fill="#1f4e8c" />
<polygon points="1238.0,485.0 1248.0,485.0 1248.0,525.0 1238.0,525.0" fill="#231f20" />
<polygon points="1255.0,485.0 1265.0,485.0 1265.0,525.0 1255.0,525.0" fill="#231f20" />
<ellipse cx="1268.6" cy="529.0" rx="14" ry="7" fill="#1a9ed9"/>
<ellipse cx="1268.6" cy="526.5" rx="14" ry="7" fill="#9ad6f3"/>
<polygon points="1028.0,575.0 1060.0,575.0 1062.0,630.0 1026.0,630.0" fill="#231f20" />
<polygon points="1018.0,590.0 1030.0,580.0 1030.0,640.0 1020.0,638.0" fill="#8c8c8c" />
<polygon points="1030.0,628.0 1058.0,628.0 1058.0,695.0 1046.0,695.0 1044.0,650.0 1040.0,695.0 1030.0,695.0" fill="#a7a9ac" />
<circle cx="1043" cy="562" r="10" fill="#f7c9a3"/>
<path d="M1033,562 A10,10 0 0 1 1053,560 L1050,553 L1035,555 Z" fill="#8b6a3e"  />
<rect x="1030" y="693" width="16" height="6" fill="#231f20" />
<rect x="1046" y="693" width="16" height="6" fill="#231f20" />
<polygon points="1058.0,592.0 1080.0,585.0 1082.0,592.0 1060.0,600.0" fill="#6d6e71" />
<polygon points="1090.0,578.0 1112.0,578.0 1135.0,690.0 1078.0,690.0" fill="#ffffff" />
<polygon points="1078.0,660.0 1135.0,660.0 1140.0,695.0 1075.0,695.0" fill="#dfeccf" />
<circle cx="1100" cy="566" r="10" fill="#f7c9a3"/>
<path d="M1090,566 A10,10 0 0 1 1110,564 L1112,600 L1106,598 L1106,566 Z" fill="#f5e26b"  />
<ellipse cx="1085" cy="620" rx="10" ry="8" fill="#f4e66a" />
<polygon points="1140.0,615.0 1153.0,615.0 1158.0,660.0 1136.0,660.0" fill="#ee8fc0" />
<circle cx="1146" cy="608" r="7" fill="#f7c9a3"/>
<path d="M1139,608 A7,7 0 0 1 1153,606 L1150,600 L1142,601 Z" fill="#231f20"  />
<ellipse cx="1077.6" cy="713.5" rx="14" ry="7" fill="#1a9ed9"/>
<ellipse cx="1077.6" cy="711" rx="14" ry="7" fill="#9ad6f3"/>
<rect x="912.0" y="567.0" width="26.0" height="32.0" rx="6.0" fill="#6fb04d"/>
<circle cx="925" cy="560.5" r="8.5" fill="#f7c9a3"/>
<path d="M916.5,560.5 A8.5,8.5 0 0 1 933.5,560.5 L931.8,557.1 L917.35,559.65 Z" fill="#8b5a2b"/>
<polygon points="905.0,590.0 935.0,585.0 940.0,605.0 910.0,612.0" fill="#f4a6c9" />
<polygon points="807.0,725.6 982.0,725.6 996.6,694.6 823.6,694.6" fill="#000000" opacity="0.1"/>
<polygon points="978.0,661.6 996.6,630.6 996.6,694.6 978.0,725.6" fill="#7a5327" />
<polygon points="809.0,665.6 823.9,640.8 823.9,684.8 809.0,725.6" fill="#6e4a22" />
<polygon points="805.0,661.6 978.0,661.6 996.6,630.6 823.6,630.6" fill="#c29868" />
<polygon points="805.0,661.6 978.0,661.6 978.0,666.6 805.0,666.6" fill="#a67d4d" />
<polygon points="805.0,661.6 810.0,661.6 810.0,725.6 805.0,725.6" fill="#a67d4d" />
<polygon points="973.0,661.6 978.0,661.6 978.0,725.6 973.0,725.6" fill="#a67d4d" />
<rect x="818" y="666" width="150" height="25" fill="#8f6738" />
<rect x="926" y="605" width="32" height="30" fill="#231f20"/>
<rect x="929" y="608" width="26" height="24" fill="#ffffff"/>
<rect x="939.44" y="635" width="5.12" height="5" fill="#231f20"/>
<polygon points="940.0,640.0 985.0,640.0 990.0,655.0 945.0,655.0" fill="#bcbec0" />
<polygon points="830.0,630.0 875.0,630.0 870.0,650.0 828.0,650.0" fill="#f2f2f2" />
<polygon points="855.0,640.0 890.0,640.0 895.0,700.0 850.0,700.0" fill="#5bc4ee" />
<circle cx="862" cy="630" r="11" fill="#231f20"/>
<circle cx="866" cy="632" r="9" fill="#f7c9a3"/>
<polygon points="850.0,640.0 858.0,640.0 858.0,705.0 850.0,705.0" fill="#231f20" />
<polygon points="828.0,670.0 862.0,670.0 862.0,700.0 828.0,700.0" fill="#f4a6c9" />
<path d="M845,700 L845,740 M830,740 L862,735" fill="none" stroke="#231f20" stroke-width="3" />
<polygon points="860.0,595.0 900.0,592.0 898.0,610.0 862.0,612.0" fill="#c8c3dc" />
<ellipse cx="927.4" cy="713.5" rx="14" ry="7" fill="#1a9ed9"/>
<ellipse cx="927.4" cy="711" rx="14" ry="7" fill="#9ad6f3"/>
<circle cx="558" cy="286" r="13" fill="#d7d7d7"/>
<circle cx="562" cy="289" r="9" fill="#f7c9a3"/>
<polygon points="530.0,300.0 560.0,298.0 562.0,346.0 528.0,346.0" fill="#5bb8e0" />
<polygon points="528.0,344.0 555.0,344.0 555.0,400.0 545.0,400.0 541.0,365.0 537.0,400.0 528.0,400.0" fill="#4a4d55" />
<rect x="528" y="398" width="16" height="7" fill="#231f20" />
<rect x="542" y="401" width="16" height="7" fill="#231f20" />
<polygon points="555.0,305.0 590.0,293.0 594.0,301.0 558.0,316.0" fill="#5bb8e0" />
<polygon points="590.0,285.0 612.0,278.0 618.0,292.0 596.0,300.0" fill="#f8e1a0" stroke="#e0b060" stroke-width="1"/>
<path d="M572,342 L592,410 M590,355 L610,405 M570,345 L603,352 M590,378 L617,378" fill="none" stroke="#ffffff" stroke-width="3.5" />
<circle cx="560" cy="412" r="5" fill="#c8c8c8"/>
<circle cx="604" cy="410" r="5" fill="#c8c8c8"/>
<rect x="628.8" y="318" width="4.5" height="80" fill="#a7a9ac" />
<rect x="684" y="318" width="4.5" height="80" fill="#a7a9ac" />
<path d="M623,282 Q623,276 630,276 L688,276 Q696,276 696,284 L696,316 Q696,320 690,320 L628,320 Q623,320 623,316 Z" fill="#e8501f"  />
<rect x="626.5" y="281.5" width="53" height="12" fill="#f6ec85" />
<rect x="648" y="281.5" width="10" height="12" fill="#8a8a8a" />
<rect x="626.5" y="281.5" width="53" height="2" fill="#231f20" />
<circle cx="703" cy="333" r="10" fill="#f7c9a3"/>
<path d="M689,327 Q691,315 703,315 Q715,315 717,327 Z" fill="#ffe600"  />
<polygon points="670.0,342.0 735.0,340.0 741.0,388.0 668.0,388.0" fill="#b5412a" />
<rect x="672" y="345" width="6" height="7" fill="#231f20" />
<rect x="678" y="359" width="6" height="7" fill="#231f20" />
<rect x="672" y="373" width="6" height="7" fill="#231f20" />
<rect x="685" y="345" width="6" height="7" fill="#231f20" />
<rect x="691" y="359" width="6" height="7" fill="#231f20" />
<rect x="685" y="373" width="6" height="7" fill="#231f20" />
<rect x="698" y="345" width="6" height="7" fill="#231f20" />
<rect x="704" y="359" width="6" height="7" fill="#231f20" />
<rect x="698" y="373" width="6" height="7" fill="#231f20" />
<rect x="711" y="345" width="6" height="7" fill="#231f20" />
<rect x="717" y="359" width="6" height="7" fill="#231f20" />
<rect x="711" y="373" width="6" height="7" fill="#231f20" />
<rect x="724" y="345" width="6" height="7" fill="#231f20" />
<rect x="730" y="359" width="6" height="7" fill="#231f20" />
<rect x="724" y="373" width="6" height="7" fill="#231f20" />
<polygon points="690.0,345.0 722.0,345.0 722.0,395.0 690.0,395.0" fill="#6b90c9" />
<path d="M660,368 L668,385" fill="none" stroke="#231f20" stroke-width="2.5" />
<polygon points="602.3,487.9 714.3,487.9 726.9,455.9 616.9,455.9" fill="#000000" opacity="0.1"/>
<polygon points="710.3,430.9 726.9,398.9 726.9,455.9 710.3,487.9" fill="#7a5327" />
<polygon points="604.3,434.9 617.6,409.3 617.6,448.0 604.3,487.9" fill="#6e4a22" />
<polygon points="600.3,430.9 710.3,430.9 726.9,398.9 616.9,398.9" fill="#c29868" />
<polygon points="600.3,430.9 710.3,430.9 710.3,435.9 600.3,435.9" fill="#a67d4d" />
<polygon points="600.3,430.9 605.3,430.9 605.3,487.9 600.3,487.9" fill="#a67d4d" />
<polygon points="705.3,430.9 710.3,430.9 710.3,487.9 705.3,487.9" fill="#a67d4d" />
<rect x="694.6" y="371.4" width="33" height="30" fill="#231f20"/>
<rect x="697.6" y="374.4" width="27" height="24" fill="#e8f4fb"/>
<rect x="708.46" y="401.4" width="5.28" height="5" fill="#231f20"/>
<rect x="660" y="415" width="22" height="6" fill="#d0d2d4" />
<rect x="653" y="402" width="14" height="8" fill="#ffffff" />
<path d="M701,440 L701,480" fill="none" stroke="#1a9ed9" stroke-width="4" />
<ellipse cx="694.6" cy="484.5" rx="13" ry="6" fill="#1a9ed9"/>
<ellipse cx="694.6" cy="482" rx="13" ry="6" fill="#9ad6f3"/>
<polygon points="628.0,415.0 652.0,413.0 656.0,462.0 628.0,462.0" fill="#a9d8ef" />
<polygon points="646.0,455.0 674.0,455.0 676.0,490.0 666.0,490.0 664.0,468.0 646.0,468.0" fill="#1d4f8c" />
<circle cx="634" cy="405" r="11" fill="#231f20"/>
<circle cx="638" cy="407" r="9" fill="#f7c9a3"/>
<polygon points="652.0,425.0 675.0,420.0 677.0,426.0 654.0,432.0" fill="#f7c9a3" />
<polygon points="597.0,438.0 630.0,436.0 638.0,490.0 596.0,490.0" fill="#f08a1c" />
<circle cx="615" cy="427" r="12" fill="#6b4226"/>
<polygon points="602.0,418.0 626.0,414.0 622.0,424.0 604.0,426.0" fill="#ef7a22" />
<polygon points="544.0,585.8 656.0,585.8 667.5,549.8 557.5,549.8" fill="#000000" opacity="0.1"/>
<polygon points="652.0,527.8 667.5,491.8 667.5,549.8 652.0,585.8" fill="#7a5327" />
<polygon points="546.0,531.8 558.4,503.0 558.4,542.5 546.0,585.8" fill="#6e4a22" />
<polygon points="542.0,527.8 652.0,527.8 667.5,491.8 557.5,491.8" fill="#c29868" />
<polygon points="542.0,527.8 652.0,527.8 652.0,532.8 542.0,532.8" fill="#a67d4d" />
<polygon points="542.0,527.8 547.0,527.8 547.0,585.8 542.0,585.8" fill="#a67d4d" />
<polygon points="647.0,527.8 652.0,527.8 652.0,585.8 647.0,585.8" fill="#a67d4d" />
<rect x="636.4" y="464.5" width="32" height="32" fill="#231f20"/>
<rect x="639.4" y="467.5" width="26" height="26" fill="#e8f4fb"/>
<rect x="649.84" y="496.5" width="5.12" height="5" fill="#231f20"/>
<rect x="604" y="505" width="30" height="6" fill="#d0d2d4" />
<rect x="590" y="492" width="14" height="9" fill="#ffffff" />
<path d="M637,535 L637,572" fill="none" stroke="#1a9ed9" stroke-width="4" />
<ellipse cx="635" cy="576.5" rx="13" ry="6" fill="#1a9ed9"/>
<ellipse cx="635" cy="574" rx="13" ry="6" fill="#9ad6f3"/>
<polygon points="556.0,522.0 582.0,520.0 584.0,566.0 556.0,566.0" fill="#f5a623" />
<polygon points="560.0,508.0 592.0,506.0 596.0,556.0 562.0,556.0" fill="#a9d8ef" />
<polygon points="580.0,545.0 615.0,545.0 628.0,582.0 618.0,586.0 608.0,560.0 582.0,560.0" fill="#1d4f8c" />
<circle cx="570" cy="500" r="12" fill="#231f20"/>
<circle cx="574" cy="502" r="9.5" fill="#f7c9a3"/>
<polygon points="590.0,525.0 612.0,520.0 614.0,526.0 592.0,531.0" fill="#f7c9a3" />
<path d="M570,566 L572,600 M556,600 L590,596 M572,595 L560,608 M572,595 L586,606" fill="none" stroke="#231f20" stroke-width="2.5" />
<circle cx="525" cy="557" r="11.5" fill="#231f20"/>
<circle cx="527" cy="559" r="9.5" fill="#f7c9a3"/>
<polygon points="511.0,568.0 542.0,568.0 542.0,615.0 511.0,615.0" fill="#e8452c" />
<polygon points="516.0,572.0 533.0,572.0 535.0,608.0 516.0,608.0" fill="#231f20" />
<polygon points="513.0,612.0 540.0,612.0 540.0,630.0 513.0,630.0" fill="#1d4f8c" />
<polygon points="476.0,570.0 490.0,563.0 500.0,586.0 486.0,592.0" fill="#ffffff" />
<ellipse cx="520" cy="600" rx="6" ry="9" fill="#f6e37a" />
<polygon points="453.7,722.9 566.7,722.9 577.0,691.9 466.0,691.9" fill="#000000" opacity="0.1"/>
<polygon points="562.7,660.9 577.0,629.9 577.0,691.9 562.7,722.9" fill="#7a5327" />
<polygon points="455.7,664.9 467.1,640.1 467.1,682.6 455.7,722.9" fill="#6e4a22" />
<polygon points="451.7,660.9 562.7,660.9 577.0,629.9 466.0,629.9" fill="#c29868" />
<polygon points="451.7,660.9 562.7,660.9 562.7,665.9 451.7,665.9" fill="#a67d4d" />
<polygon points="451.7,660.9 456.7,660.9 456.7,722.9 451.7,722.9" fill="#a67d4d" />
<polygon points="557.7,660.9 562.7,660.9 562.7,722.9 557.7,722.9" fill="#a67d4d" />
<rect x="546" y="604" width="32" height="33" fill="#231f20"/>
<rect x="549" y="607" width="26" height="27" fill="#e8f4fb"/>
<rect x="559.44" y="637" width="5.12" height="5" fill="#231f20"/>
<rect x="510" y="642" width="28" height="6" fill="#d0d2d4" />
<circle cx="505" cy="632" r="4" fill="#d9ecf5"/>
<path d="M549,668 L549,708" fill="none" stroke="#1a9ed9" stroke-width="4" />
<ellipse cx="546" cy="712.5" rx="13" ry="6" fill="#1a9ed9"/>
<ellipse cx="546" cy="710" rx="13" ry="6" fill="#9ad6f3"/>
<polygon points="472.0,646.0 505.0,644.0 515.0,670.0 511.0,690.0 472.0,690.0" fill="#e4702a" />
<polygon points="500.0,660.0 528.0,655.0 530.0,662.0 505.0,670.0" fill="#c25a1e" />
<circle cx="485" cy="635" r="12.5" fill="#c9441e"/>
<polygon points="465.0,668.0 493.0,668.0 493.0,705.0 465.0,705.0" fill="#d7263d" />
<polygon points="484.0,688.0 515.0,686.0 530.0,715.0 520.0,720.0 508.0,700.0 486.0,702.0" fill="#1d5f9f" />
<path d="M478,705 L478,735 M462,742 L496,732 M478,730 L470,745 M478,730 L490,744" fill="none" stroke="#231f20" stroke-width="2.5" />
<rect x="721.7" y="544" width="7" height="80" fill="#231f20" />
<path d="M708,490 Q708,483 716,483 L732,483 Q740,483 740,490 L740,537 Q740,544 732,544 L716,544 Q708,544 708,537 Z" fill="#231f20" stroke="#ffffff" stroke-width="2" />
<circle cx="724" cy="496" r="6" fill="#2bb24c"/>
<circle cx="724" cy="513" r="5" fill="#6b5a45"/>
<circle cx="724" cy="530" r="5" fill="#6b5a45"/>
<circle cx="690" cy="544" r="10.5" fill="#d4502d"/>
<circle cx="692" cy="546" r="8.5" fill="#f7c9a3"/>
<polygon points="678.0,555.0 702.0,555.0 715.0,640.0 660.0,645.0" fill="#e34b5a" />
<polygon points="698.0,565.0 722.0,576.0 720.0,583.0 697.0,575.0" fill="#e34b5a" />
<polygon points="674.0,585.0 692.0,582.0 696.0,600.0 678.0,604.0" fill="#231f20" />
<path d="M667,645 L660,660 M703,643 L716,655" fill="none" stroke="#d7263d" stroke-width="4" />
<path d="M720,578 L770,652 M790,612 L755,650" fill="none" stroke="#8c8c8c" stroke-width="3" />
<polygon points="726.0,590.0 790.0,590.0 786.0,612.0 730.0,612.0" fill="#f4a6c9" />
<path d="M760,590 Q770,570 790,572 L790,590 Z" fill="#e88fb8"  />
<circle cx="735" cy="650" r="9" fill="#231f20"/>
<circle cx="783" cy="652" r="7" fill="#231f20"/>
<circle cx="762" cy="662" r="7" fill="#231f20"/>
<circle cx="735" cy="650" r="4" fill="#bcbec0"/>
<circle cx="783" cy="652" r="3" fill="#bcbec0"/>
<circle cx="762" cy="662" r="3" fill="#bcbec0"/>
<text x="319.8" y="771.5" font-family="Liberation Sans" font-size="22" font-weight="bold" fill="#fff" text-anchor="start" style=""  textLength="102.6" lengthAdjust="spacingAndGlyphs">AANGIFTE</text>
<text x="308.6" y="795" font-family="Liberation Sans" font-size="22" font-weight="bold" fill="#fff" text-anchor="start" style=""  textLength="125.0" lengthAdjust="spacingAndGlyphs">WETGEVING</text>
<text x="1118.7" y="771.5" font-family="Liberation Sans" font-size="22" font-weight="bold" fill="#fff" text-anchor="start" style=""  textLength="91.3" lengthAdjust="spacingAndGlyphs">GEBRUIK</text>
<text x="1101.9" y="795" font-family="Liberation Sans" font-size="22" font-weight="bold" fill="#fff" text-anchor="start" style=""  textLength="125.0" lengthAdjust="spacingAndGlyphs">WETGEVING</text>
<polygon points="27.6,775.2 118.3,775.2 126.4,762.8 147.7,787.1 94.7,812.0 101.5,799.1 12.7,799.1" fill="#9fa1a4" />
<text x="30" y="794" font-family="Liberation Sans" font-size="19.5" font-weight="bold" fill="#ffffff" text-anchor="start" style="font-style:italic;"  textLength="99" lengthAdjust="spacingAndGlyphs">POLITIEK</text>
<text x="838.8" y="109.9" font-family="Liberation Sans" font-size="68" font-weight="bold" fill="#231f20" text-anchor="start" style=""  textLength="121.4" lengthAdjust="spacingAndGlyphs">BRP</text>
<text x="975.5" y="110" font-family="Liberation Sans" font-size="50" font-weight="bold" fill="#231f20" text-anchor="start" style=""  textLength="34.4" lengthAdjust="spacingAndGlyphs">2</text>
<text x="1012" y="110" font-family="Liberation Sans" font-size="50" font-weight="bold" fill="#231f20" text-anchor="start" style=""  textLength="31.3" lengthAdjust="spacingAndGlyphs">0</text>
<text x="1044" y="110" font-family="Liberation Sans" font-size="50" font-weight="bold" fill="#231f20" text-anchor="start" style=""  textLength="26.6" lengthAdjust="spacingAndGlyphs">1</text>
<text x="1077.8" y="122" font-family="Liberation Sans" font-size="67" font-weight="bold" fill="#231f20" text-anchor="start" style=""  textLength="33.4" lengthAdjust="spacingAndGlyphs">5</text>
</svg>
</body></html>
